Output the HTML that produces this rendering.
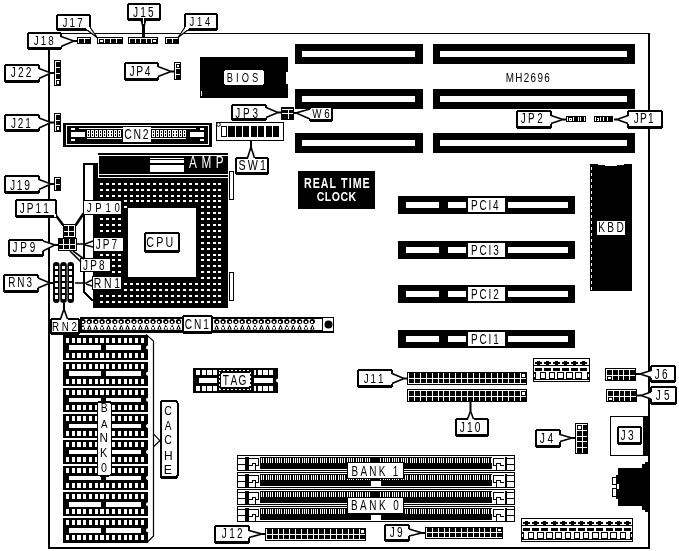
<!DOCTYPE html>
<html><head><meta charset="utf-8"><style>
html,body{margin:0;padding:0;background:#fff;width:679px;height:551px;overflow:hidden}
svg{display:block;will-change:transform}
text{font-family:"Liberation Sans",sans-serif}
</style></head><body>
<svg width="679" height="551" viewBox="0 0 679 551" shape-rendering="crispEdges">
<rect width="679" height="551" fill="#fff"/>
<rect x="48.00" y="33.00" width="602.00" height="1.00" fill="#000" />
<rect x="48.00" y="33.00" width="2.00" height="516.00" fill="#000" />
<rect x="48.00" y="547.00" width="602.00" height="2.00" fill="#000" />
<rect x="648.00" y="33.00" width="2.00" height="516.00" fill="#000" />
<rect x="295.00" y="44.00" width="128.00" height="20.00" fill="#000" />
<rect x="302.00" y="51.00" width="113.00" height="6.00" fill="#fff" />
<rect x="433.00" y="44.00" width="202.00" height="20.00" fill="#000" />
<rect x="440.00" y="51.00" width="187.00" height="6.00" fill="#fff" />
<rect x="295.00" y="89.00" width="128.00" height="20.00" fill="#000" />
<rect x="302.00" y="96.00" width="113.00" height="6.00" fill="#fff" />
<rect x="433.00" y="89.00" width="202.00" height="20.00" fill="#000" />
<rect x="440.00" y="96.00" width="187.00" height="6.00" fill="#fff" />
<rect x="295.00" y="133.00" width="128.00" height="20.00" fill="#000" />
<rect x="302.00" y="140.00" width="113.00" height="6.00" fill="#fff" />
<rect x="433.00" y="133.00" width="202.00" height="20.00" fill="#000" />
<rect x="440.00" y="140.00" width="187.00" height="6.00" fill="#fff" />
<text transform="scale(0.8,1)" x="632.24 644.17 654.74 663.26 671.78 680.30" y="82.30" font-size="12.35" fill="#000" font-weight="normal">MH2696</text>
<rect x="200.00" y="57.00" width="88.00" height="41.00" fill="#000" />
<rect x="286.00" y="72.00" width="2.00" height="12.00" fill="#fff" />
<rect x="201.00" y="91.00" width="1.00" height="5.00" fill="#fff" />
<rect x="224" y="70" width="40" height="15" rx="2.5" fill="#fff"/>
<text transform="scale(0.72,1)" x="315.05 327.86 335.64 349.88" y="81.60" font-size="12.94" fill="#000" font-weight="normal">BIOS</text>
<rect x="216.00" y="122.00" width="68.00" height="19.00" fill="#000" />
<rect x="217.00" y="123.00" width="66.00" height="17.00" fill="#fff" />
<rect x="221.00" y="126.00" width="6.30" height="11.00" fill="#000" />
<rect x="222.00" y="127.00" width="4.30" height="9.00" fill="#fff" />
<rect x="228.42" y="126.00" width="6.20" height="11.00" fill="#000" />
<rect x="235.84" y="126.00" width="6.20" height="11.00" fill="#000" />
<rect x="243.26" y="126.00" width="6.20" height="11.00" fill="#000" />
<rect x="250.68" y="126.00" width="6.20" height="11.00" fill="#000" />
<rect x="258.10" y="126.00" width="6.20" height="11.00" fill="#000" />
<rect x="265.52" y="126.00" width="6.20" height="11.00" fill="#000" />
<rect x="272.94" y="126.00" width="6.20" height="11.00" fill="#000" />
<circle cx="218.5" cy="124.5" r="1.8" fill="#fff" stroke="#000" stroke-width="1" shape-rendering="auto"/>
<rect x="63.00" y="123.00" width="149.00" height="24.00" fill="#000" />
<rect x="66.00" y="125.00" width="143.00" height="20.00" fill="#fff" />
<rect x="67.00" y="126.00" width="141.00" height="18.00" fill="#000" />
<rect x="71.00" y="128.00" width="4.00" height="2.00" fill="#fff" />
<rect x="71.00" y="139.00" width="4.00" height="2.00" fill="#fff" />
<rect x="71.00" y="132.00" width="14.00" height="5.00" fill="#fff" />
<rect x="200.00" y="128.00" width="4.00" height="2.00" fill="#fff" />
<rect x="200.00" y="139.00" width="4.00" height="2.00" fill="#fff" />
<rect x="190.00" y="132.00" width="14.00" height="5.00" fill="#fff" />
<rect x="79.00" y="128.00" width="45.00" height="1.00" fill="#fff" />
<rect x="87.00" y="138.00" width="35.00" height="1.00" fill="#fff" />
<rect x="150.00" y="128.00" width="46.00" height="1.00" fill="#fff" />
<rect x="151.00" y="138.00" width="35.00" height="1.00" fill="#fff" />
<rect x="87.00" y="129.50" width="3.00" height="7.50" fill="#fff" />
<rect x="88.00" y="130.50" width="1.00" height="2.00" fill="#000" />
<rect x="88.00" y="134.00" width="1.00" height="2.00" fill="#000" />
<rect x="90.90" y="129.50" width="3.00" height="7.50" fill="#fff" />
<rect x="91.90" y="130.50" width="1.00" height="2.00" fill="#000" />
<rect x="91.90" y="134.00" width="1.00" height="2.00" fill="#000" />
<rect x="94.80" y="129.50" width="3.00" height="7.50" fill="#fff" />
<rect x="95.80" y="130.50" width="1.00" height="2.00" fill="#000" />
<rect x="95.80" y="134.00" width="1.00" height="2.00" fill="#000" />
<rect x="98.70" y="129.50" width="3.00" height="7.50" fill="#fff" />
<rect x="99.70" y="130.50" width="1.00" height="2.00" fill="#000" />
<rect x="99.70" y="134.00" width="1.00" height="2.00" fill="#000" />
<rect x="102.60" y="129.50" width="3.00" height="7.50" fill="#fff" />
<rect x="103.60" y="130.50" width="1.00" height="2.00" fill="#000" />
<rect x="103.60" y="134.00" width="1.00" height="2.00" fill="#000" />
<rect x="106.50" y="129.50" width="3.00" height="7.50" fill="#fff" />
<rect x="107.50" y="130.50" width="1.00" height="2.00" fill="#000" />
<rect x="107.50" y="134.00" width="1.00" height="2.00" fill="#000" />
<rect x="110.40" y="129.50" width="3.00" height="7.50" fill="#fff" />
<rect x="111.40" y="130.50" width="1.00" height="2.00" fill="#000" />
<rect x="111.40" y="134.00" width="1.00" height="2.00" fill="#000" />
<rect x="114.30" y="129.50" width="3.00" height="7.50" fill="#fff" />
<rect x="115.30" y="130.50" width="1.00" height="2.00" fill="#000" />
<rect x="115.30" y="134.00" width="1.00" height="2.00" fill="#000" />
<rect x="118.20" y="129.50" width="3.00" height="7.50" fill="#fff" />
<rect x="119.20" y="130.50" width="1.00" height="2.00" fill="#000" />
<rect x="119.20" y="134.00" width="1.00" height="2.00" fill="#000" />
<rect x="152.00" y="129.50" width="3.00" height="7.50" fill="#fff" />
<rect x="153.00" y="130.50" width="1.00" height="2.00" fill="#000" />
<rect x="153.00" y="134.00" width="1.00" height="2.00" fill="#000" />
<rect x="155.90" y="129.50" width="3.00" height="7.50" fill="#fff" />
<rect x="156.90" y="130.50" width="1.00" height="2.00" fill="#000" />
<rect x="156.90" y="134.00" width="1.00" height="2.00" fill="#000" />
<rect x="159.80" y="129.50" width="3.00" height="7.50" fill="#fff" />
<rect x="160.80" y="130.50" width="1.00" height="2.00" fill="#000" />
<rect x="160.80" y="134.00" width="1.00" height="2.00" fill="#000" />
<rect x="163.70" y="129.50" width="3.00" height="7.50" fill="#fff" />
<rect x="164.70" y="130.50" width="1.00" height="2.00" fill="#000" />
<rect x="164.70" y="134.00" width="1.00" height="2.00" fill="#000" />
<rect x="167.60" y="129.50" width="3.00" height="7.50" fill="#fff" />
<rect x="168.60" y="130.50" width="1.00" height="2.00" fill="#000" />
<rect x="168.60" y="134.00" width="1.00" height="2.00" fill="#000" />
<rect x="171.50" y="129.50" width="3.00" height="7.50" fill="#fff" />
<rect x="172.50" y="130.50" width="1.00" height="2.00" fill="#000" />
<rect x="172.50" y="134.00" width="1.00" height="2.00" fill="#000" />
<rect x="175.40" y="129.50" width="3.00" height="7.50" fill="#fff" />
<rect x="176.40" y="130.50" width="1.00" height="2.00" fill="#000" />
<rect x="176.40" y="134.00" width="1.00" height="2.00" fill="#000" />
<rect x="179.30" y="129.50" width="3.00" height="7.50" fill="#fff" />
<rect x="180.30" y="130.50" width="1.00" height="2.00" fill="#000" />
<rect x="180.30" y="134.00" width="1.00" height="2.00" fill="#000" />
<rect x="183.20" y="129.50" width="3.00" height="7.50" fill="#fff" />
<rect x="184.20" y="130.50" width="1.00" height="2.00" fill="#000" />
<rect x="184.20" y="134.00" width="1.00" height="2.00" fill="#000" />
<rect x="123.00" y="127.00" width="28.00" height="15.00" fill="#fff" />
<text transform="scale(0.72,1)" x="172.73 185.54 198.34" y="138.90" font-size="14.53" fill="#000" font-weight="normal">CN2</text>
<polygon points="83,163 94,163 94,301 91,301 83,293" fill="#000" />
<polygon points="85,165 93,165 93,298.5 91.5,298.5 85,292" fill="#fff" />
<rect x="93.00" y="163.00" width="135.00" height="145.00" fill="#000" />
<rect x="98.00" y="153.00" width="130.00" height="10.00" fill="#000" />
<rect x="98.00" y="155.00" width="130.00" height="1.00" fill="#fff" />
<rect x="98.00" y="155.00" width="1.00" height="23.00" fill="#fff" />
<rect x="99.00" y="174.00" width="129.00" height="1.00" fill="#fff" />
<rect x="98.00" y="177.00" width="130.00" height="1.00" fill="#fff" />
<rect x="150.00" y="158.00" width="34.00" height="1.00" fill="#fff" />
<rect x="150.00" y="160.00" width="34.00" height="3.00" fill="#fff" />
<rect x="150.00" y="165.00" width="34.00" height="7.00" fill="#fff" />
<text transform="scale(0.75,1)" x="251.97 268.53 287.69" y="168.30" font-size="15.70" fill="#fff" font-weight="normal">AMP</text>
<path d="M100.0,182.7h3v2h-3z M105.9,182.7h3v2h-3z M111.8,182.7h3v2h-3z M117.8,182.7h3v2h-3z M123.7,182.7h3v2h-3z M129.6,182.7h3v2h-3z M135.5,182.7h3v2h-3z M141.4,182.7h3v2h-3z M147.4,182.7h3v2h-3z M153.3,182.7h3v2h-3z M159.2,182.7h3v2h-3z M165.1,182.7h3v2h-3z M171.0,182.7h3v2h-3z M177.0,182.7h3v2h-3z M182.9,182.7h3v2h-3z M188.8,182.7h3v2h-3z M194.7,182.7h3v2h-3z M200.6,182.7h3v2h-3z M206.6,182.7h3v2h-3z M212.5,182.7h3v2h-3z M218.4,182.7h3v2h-3z M100.0,188.6h3v2h-3z M105.9,188.6h3v2h-3z M111.8,188.6h3v2h-3z M117.8,188.6h3v2h-3z M123.7,188.6h3v2h-3z M129.6,188.6h3v2h-3z M135.5,188.6h3v2h-3z M141.4,188.6h3v2h-3z M147.4,188.6h3v2h-3z M153.3,188.6h3v2h-3z M159.2,188.6h3v2h-3z M165.1,188.6h3v2h-3z M171.0,188.6h3v2h-3z M177.0,188.6h3v2h-3z M182.9,188.6h3v2h-3z M188.8,188.6h3v2h-3z M194.7,188.6h3v2h-3z M200.6,188.6h3v2h-3z M206.6,188.6h3v2h-3z M212.5,188.6h3v2h-3z M218.4,188.6h3v2h-3z M100.0,194.5h3v2h-3z M105.9,194.5h3v2h-3z M111.8,194.5h3v2h-3z M117.8,194.5h3v2h-3z M123.7,194.5h3v2h-3z M129.6,194.5h3v2h-3z M135.5,194.5h3v2h-3z M141.4,194.5h3v2h-3z M147.4,194.5h3v2h-3z M153.3,194.5h3v2h-3z M159.2,194.5h3v2h-3z M165.1,194.5h3v2h-3z M171.0,194.5h3v2h-3z M177.0,194.5h3v2h-3z M182.9,194.5h3v2h-3z M188.8,194.5h3v2h-3z M194.7,194.5h3v2h-3z M200.6,194.5h3v2h-3z M206.6,194.5h3v2h-3z M212.5,194.5h3v2h-3z M218.4,194.5h3v2h-3z M123.7,200.4h3v2h-3z M129.6,200.4h3v2h-3z M135.5,200.4h3v2h-3z M141.4,200.4h3v2h-3z M147.4,200.4h3v2h-3z M153.3,200.4h3v2h-3z M159.2,200.4h3v2h-3z M165.1,200.4h3v2h-3z M171.0,200.4h3v2h-3z M177.0,200.4h3v2h-3z M182.9,200.4h3v2h-3z M188.8,200.4h3v2h-3z M194.7,200.4h3v2h-3z M200.6,200.4h3v2h-3z M206.6,200.4h3v2h-3z M212.5,200.4h3v2h-3z M218.4,200.4h3v2h-3z M123.7,206.3h3v2h-3z M200.6,206.3h3v2h-3z M206.6,206.3h3v2h-3z M212.5,206.3h3v2h-3z M218.4,206.3h3v2h-3z M200.6,212.2h3v2h-3z M206.6,212.2h3v2h-3z M212.5,212.2h3v2h-3z M218.4,212.2h3v2h-3z M100.0,218.1h3v2h-3z M105.9,218.1h3v2h-3z M111.8,218.1h3v2h-3z M117.8,218.1h3v2h-3z M200.6,218.1h3v2h-3z M206.6,218.1h3v2h-3z M212.5,218.1h3v2h-3z M218.4,218.1h3v2h-3z M100.0,224.0h3v2h-3z M105.9,224.0h3v2h-3z M111.8,224.0h3v2h-3z M117.8,224.0h3v2h-3z M200.6,224.0h3v2h-3z M206.6,224.0h3v2h-3z M212.5,224.0h3v2h-3z M218.4,224.0h3v2h-3z M100.0,229.9h3v2h-3z M105.9,229.9h3v2h-3z M111.8,229.9h3v2h-3z M117.8,229.9h3v2h-3z M200.6,229.9h3v2h-3z M206.6,229.9h3v2h-3z M212.5,229.9h3v2h-3z M218.4,229.9h3v2h-3z M200.6,235.8h3v2h-3z M206.6,235.8h3v2h-3z M212.5,235.8h3v2h-3z M218.4,235.8h3v2h-3z M200.6,241.7h3v2h-3z M206.6,241.7h3v2h-3z M212.5,241.7h3v2h-3z M218.4,241.7h3v2h-3z M200.6,247.6h3v2h-3z M206.6,247.6h3v2h-3z M212.5,247.6h3v2h-3z M218.4,247.6h3v2h-3z M100.0,253.5h3v2h-3z M105.9,253.5h3v2h-3z M111.8,253.5h3v2h-3z M117.8,253.5h3v2h-3z M200.6,253.5h3v2h-3z M206.6,253.5h3v2h-3z M212.5,253.5h3v2h-3z M218.4,253.5h3v2h-3z M111.8,259.4h3v2h-3z M117.8,259.4h3v2h-3z M200.6,259.4h3v2h-3z M206.6,259.4h3v2h-3z M212.5,259.4h3v2h-3z M218.4,259.4h3v2h-3z M111.8,265.3h3v2h-3z M117.8,265.3h3v2h-3z M200.6,265.3h3v2h-3z M206.6,265.3h3v2h-3z M212.5,265.3h3v2h-3z M218.4,265.3h3v2h-3z M111.8,271.2h3v2h-3z M117.8,271.2h3v2h-3z M200.6,271.2h3v2h-3z M206.6,271.2h3v2h-3z M212.5,271.2h3v2h-3z M218.4,271.2h3v2h-3z M200.6,277.1h3v2h-3z M206.6,277.1h3v2h-3z M212.5,277.1h3v2h-3z M218.4,277.1h3v2h-3z M123.7,283.0h3v2h-3z M129.6,283.0h3v2h-3z M135.5,283.0h3v2h-3z M141.4,283.0h3v2h-3z M147.4,283.0h3v2h-3z M153.3,283.0h3v2h-3z M159.2,283.0h3v2h-3z M165.1,283.0h3v2h-3z M171.0,283.0h3v2h-3z M177.0,283.0h3v2h-3z M182.9,283.0h3v2h-3z M188.8,283.0h3v2h-3z M194.7,283.0h3v2h-3z M200.6,283.0h3v2h-3z M206.6,283.0h3v2h-3z M212.5,283.0h3v2h-3z M218.4,283.0h3v2h-3z M123.7,288.9h3v2h-3z M129.6,288.9h3v2h-3z M135.5,288.9h3v2h-3z M141.4,288.9h3v2h-3z M147.4,288.9h3v2h-3z M153.3,288.9h3v2h-3z M159.2,288.9h3v2h-3z M165.1,288.9h3v2h-3z M171.0,288.9h3v2h-3z M177.0,288.9h3v2h-3z M182.9,288.9h3v2h-3z M188.8,288.9h3v2h-3z M194.7,288.9h3v2h-3z M200.6,288.9h3v2h-3z M206.6,288.9h3v2h-3z M212.5,288.9h3v2h-3z M218.4,288.9h3v2h-3z M100.0,294.8h3v2h-3z M105.9,294.8h3v2h-3z M111.8,294.8h3v2h-3z M117.8,294.8h3v2h-3z M123.7,294.8h3v2h-3z M129.6,294.8h3v2h-3z M135.5,294.8h3v2h-3z M141.4,294.8h3v2h-3z M147.4,294.8h3v2h-3z M153.3,294.8h3v2h-3z M159.2,294.8h3v2h-3z M165.1,294.8h3v2h-3z M171.0,294.8h3v2h-3z M177.0,294.8h3v2h-3z M182.9,294.8h3v2h-3z M188.8,294.8h3v2h-3z M194.7,294.8h3v2h-3z M200.6,294.8h3v2h-3z M206.6,294.8h3v2h-3z M212.5,294.8h3v2h-3z M218.4,294.8h3v2h-3z M100.0,300.7h3v2h-3z M105.9,300.7h3v2h-3z M111.8,300.7h3v2h-3z M117.8,300.7h3v2h-3z M123.7,300.7h3v2h-3z M129.6,300.7h3v2h-3z M135.5,300.7h3v2h-3z M141.4,300.7h3v2h-3z M147.4,300.7h3v2h-3z M153.3,300.7h3v2h-3z M159.2,300.7h3v2h-3z M165.1,300.7h3v2h-3z M171.0,300.7h3v2h-3z M177.0,300.7h3v2h-3z M182.9,300.7h3v2h-3z M188.8,300.7h3v2h-3z M194.7,300.7h3v2h-3z M200.6,300.7h3v2h-3z M206.6,300.7h3v2h-3z M212.5,300.7h3v2h-3z M218.4,300.7h3v2h-3z" fill="#fff"/>
<rect x="128.00" y="208.00" width="68.00" height="69.00" fill="#fff" />
<rect x="229.00" y="171.00" width="5.00" height="29.00" fill="#000" />
<rect x="230.00" y="172.00" width="3.00" height="27.00" fill="#fff" />
<rect x="229.00" y="272.00" width="5.00" height="29.00" fill="#000" />
<rect x="230.00" y="273.00" width="3.00" height="27.00" fill="#fff" />
<rect x="298.00" y="171.00" width="77.00" height="38.00" fill="#000" />
<text transform="scale(0.75,1)" x="405.18 416.84 427.72 439.39 449.46 454.80 464.88 470.21 483.46" y="187.80" font-size="14.24" fill="#fff" font-weight="bold">REAL&#160;TIME</text>
<text transform="scale(0.8,1)" x="395.96 406.04 414.66 425.48 435.57" y="201.30" font-size="13.23" fill="#fff" font-weight="bold">CLOCK</text>
<rect x="398.00" y="196.00" width="177.00" height="18.00" fill="#000" />
<rect x="406.00" y="202.00" width="33.00" height="6.00" fill="#fff" />
<rect x="448.00" y="202.00" width="18.00" height="6.00" fill="#fff" />
<rect x="508.00" y="202.00" width="60.00" height="6.00" fill="#fff" />
<rect x="468.00" y="198.00" width="37.00" height="14.00" fill="#fff" />
<text transform="scale(0.72,1)" x="654.15 665.90 678.42 684.81" y="209.70" font-size="13.81" fill="#000" font-weight="normal">PCI4</text>
<rect x="398.00" y="241.00" width="177.00" height="18.00" fill="#000" />
<rect x="406.00" y="247.00" width="33.00" height="6.00" fill="#fff" />
<rect x="448.00" y="247.00" width="18.00" height="6.00" fill="#fff" />
<rect x="508.00" y="247.00" width="60.00" height="6.00" fill="#fff" />
<rect x="468.00" y="243.00" width="37.00" height="14.00" fill="#fff" />
<text transform="scale(0.72,1)" x="654.15 665.97 678.56 685.01" y="254.70" font-size="13.81" fill="#000" font-weight="normal">PCI3</text>
<rect x="398.00" y="285.00" width="177.00" height="18.00" fill="#000" />
<rect x="406.00" y="291.00" width="33.00" height="6.00" fill="#fff" />
<rect x="448.00" y="291.00" width="18.00" height="6.00" fill="#fff" />
<rect x="508.00" y="291.00" width="60.00" height="6.00" fill="#fff" />
<rect x="468.00" y="287.00" width="37.00" height="14.00" fill="#fff" />
<text transform="scale(0.72,1)" x="654.15 666.00 678.62 685.10" y="298.70" font-size="13.81" fill="#000" font-weight="normal">PCI2</text>
<rect x="398.00" y="330.00" width="177.00" height="18.00" fill="#000" />
<rect x="406.00" y="336.00" width="33.00" height="6.00" fill="#fff" />
<rect x="448.00" y="336.00" width="18.00" height="6.00" fill="#fff" />
<rect x="508.00" y="336.00" width="60.00" height="6.00" fill="#fff" />
<rect x="468.00" y="332.00" width="37.00" height="14.00" fill="#fff" />
<text transform="scale(0.72,1)" x="654.15 665.99 678.60 685.08" y="343.70" font-size="13.81" fill="#000" font-weight="normal">PCI1</text>
<rect x="590.00" y="164.00" width="42.00" height="127.00" fill="#000" />
<rect x="598.00" y="164.00" width="26.00" height="1.00" fill="#fff" />
<rect x="605.00" y="164.00" width="12.00" height="2.00" fill="#fff" />
<rect x="591.00" y="167.00" width="1.00" height="3.00" fill="#fff" />
<rect x="591.00" y="173.00" width="1.00" height="3.00" fill="#fff" />
<rect x="591.00" y="179.00" width="1.00" height="3.00" fill="#fff" />
<rect x="591.00" y="185.00" width="1.00" height="3.00" fill="#fff" />
<rect x="591.00" y="191.00" width="1.00" height="3.00" fill="#fff" />
<rect x="591.00" y="197.00" width="1.00" height="3.00" fill="#fff" />
<rect x="591.00" y="203.00" width="1.00" height="3.00" fill="#fff" />
<rect x="591.00" y="209.00" width="1.00" height="3.00" fill="#fff" />
<rect x="591.00" y="215.00" width="1.00" height="3.00" fill="#fff" />
<rect x="591.00" y="221.00" width="1.00" height="3.00" fill="#fff" />
<rect x="591.00" y="227.00" width="1.00" height="3.00" fill="#fff" />
<rect x="591.00" y="233.00" width="1.00" height="3.00" fill="#fff" />
<rect x="591.00" y="239.00" width="1.00" height="3.00" fill="#fff" />
<rect x="591.00" y="245.00" width="1.00" height="3.00" fill="#fff" />
<rect x="591.00" y="251.00" width="1.00" height="3.00" fill="#fff" />
<rect x="591.00" y="257.00" width="1.00" height="3.00" fill="#fff" />
<rect x="591.00" y="263.00" width="1.00" height="3.00" fill="#fff" />
<rect x="591.00" y="269.00" width="1.00" height="3.00" fill="#fff" />
<rect x="591.00" y="275.00" width="1.00" height="3.00" fill="#fff" />
<rect x="591.00" y="281.00" width="1.00" height="3.00" fill="#fff" />
<rect x="591.00" y="287.00" width="1.00" height="3.00" fill="#fff" />
<rect x="597" y="221" width="28" height="14" rx="1.5" fill="#fff"/>
<text transform="scale(0.72,1)" x="830.79 843.49 856.19" y="231.60" font-size="14.10" fill="#000" font-weight="normal">KBD</text>
<rect x="77.00" y="37.00" width="14.00" height="7.00" fill="#000" />
<rect x="78.00" y="38.00" width="12.00" height="5.00" fill="#fff" />
<rect x="79.00" y="39.00" width="5.00" height="4.00" fill="#000" />
<rect x="85.00" y="39.00" width="5.00" height="4.00" fill="#000" />
<rect x="97.00" y="37.00" width="26.00" height="7.00" fill="#000" />
<rect x="98.00" y="38.00" width="24.00" height="5.00" fill="#fff" />
<rect x="99.00" y="39.00" width="5.00" height="4.00" fill="#000" />
<rect x="100.00" y="40.00" width="3.00" height="2.00" fill="#fff" />
<rect x="105.00" y="39.00" width="5.00" height="4.00" fill="#000" />
<rect x="111.00" y="39.00" width="5.00" height="4.00" fill="#000" />
<rect x="117.00" y="39.00" width="5.00" height="4.00" fill="#000" />
<rect x="128.00" y="37.00" width="30.00" height="7.00" fill="#000" />
<rect x="129.00" y="38.00" width="28.00" height="5.00" fill="#fff" />
<rect x="130.00" y="39.00" width="4.60" height="4.00" fill="#000" />
<rect x="135.60" y="39.00" width="4.60" height="4.00" fill="#000" />
<rect x="141.20" y="39.00" width="4.60" height="4.00" fill="#000" />
<rect x="146.80" y="39.00" width="4.60" height="4.00" fill="#000" />
<rect x="152.40" y="39.00" width="4.60" height="4.00" fill="#000" />
<rect x="153.40" y="40.00" width="2.60" height="2.00" fill="#fff" />
<rect x="165.00" y="37.00" width="14.00" height="7.00" fill="#000" />
<rect x="166.00" y="38.00" width="12.00" height="5.00" fill="#fff" />
<rect x="167.00" y="39.00" width="5.00" height="4.00" fill="#000" />
<rect x="173.00" y="39.00" width="5.00" height="4.00" fill="#000" />
<rect x="54.00" y="60.00" width="7.00" height="26.00" fill="#000" />
<rect x="55.00" y="61.00" width="5.00" height="24.00" fill="#fff" />
<rect x="56.00" y="62.00" width="4.00" height="5.00" fill="#000" />
<rect x="56.00" y="68.00" width="4.00" height="5.00" fill="#000" />
<rect x="56.00" y="74.00" width="4.00" height="5.00" fill="#000" />
<rect x="56.00" y="80.00" width="4.00" height="5.00" fill="#000" />
<rect x="57.00" y="81.00" width="2.00" height="3.00" fill="#fff" />
<rect x="54.00" y="113.00" width="7.00" height="19.00" fill="#000" />
<rect x="55.00" y="114.00" width="5.00" height="17.00" fill="#fff" />
<rect x="56.00" y="115.00" width="4.00" height="4.67" fill="#000" />
<rect x="56.00" y="120.67" width="4.00" height="4.67" fill="#000" />
<rect x="56.00" y="126.33" width="4.00" height="4.67" fill="#000" />
<rect x="57.00" y="127.33" width="2.00" height="2.67" fill="#fff" />
<rect x="174.00" y="62.00" width="7.00" height="18.00" fill="#000" />
<rect x="175.00" y="63.00" width="5.00" height="16.00" fill="#fff" />
<rect x="176.00" y="64.00" width="4.00" height="4.33" fill="#000" />
<rect x="177.00" y="65.00" width="2.00" height="2.33" fill="#fff" />
<rect x="176.00" y="69.33" width="4.00" height="4.33" fill="#000" />
<rect x="176.00" y="74.67" width="4.00" height="4.33" fill="#000" />
<rect x="54.00" y="177.00" width="7.00" height="14.00" fill="#000" />
<rect x="55.00" y="178.00" width="5.00" height="12.00" fill="#fff" />
<rect x="56.00" y="179.00" width="4.00" height="5.00" fill="#000" />
<rect x="56.00" y="185.00" width="4.00" height="5.00" fill="#000" />
<rect x="281.00" y="107.00" width="13.00" height="13.00" fill="#000" />
<rect x="282.00" y="109.00" width="11.00" height="1.00" fill="#fff" />
<rect x="282.00" y="113.00" width="11.00" height="1.00" fill="#fff" />
<rect x="288.00" y="109.00" width="1.00" height="9.50" fill="#fff" />
<rect x="566.00" y="116.00" width="20.00" height="6.00" fill="#000" />
<rect x="567.00" y="117.00" width="1.00" height="4.00" fill="#fff" />
<rect x="573.00" y="117.00" width="1.00" height="4.00" fill="#fff" />
<rect x="578.00" y="117.00" width="1.00" height="4.00" fill="#fff" />
<rect x="580.00" y="117.00" width="1.00" height="4.00" fill="#fff" />
<rect x="584.00" y="117.00" width="1.00" height="4.00" fill="#fff" />
<rect x="569.00" y="117.50" width="3.00" height="3.00" fill="#fff" />
<rect x="570.00" y="118.50" width="1.00" height="1.00" fill="#000" />
<rect x="594.00" y="116.00" width="19.00" height="6.00" fill="#000" />
<rect x="595.00" y="117.00" width="1.00" height="4.00" fill="#fff" />
<rect x="600.00" y="117.00" width="1.00" height="4.00" fill="#fff" />
<rect x="603.00" y="117.00" width="1.00" height="4.00" fill="#fff" />
<rect x="607.00" y="117.00" width="1.00" height="4.00" fill="#fff" />
<rect x="596.50" y="117.50" width="2.50" height="3.00" fill="#fff" />
<rect x="597.30" y="118.50" width="1.00" height="1.00" fill="#000" />
<rect x="63.00" y="224.00" width="13.00" height="14.00" fill="#000" />
<rect x="68.00" y="225.00" width="1.00" height="12.00" fill="#fff" />
<rect x="74.00" y="225.00" width="1.00" height="12.00" fill="#fff" />
<rect x="64.00" y="225.00" width="11.00" height="1.00" fill="#fff" />
<rect x="64.00" y="231.00" width="11.00" height="1.00" fill="#fff" />
<rect x="64.00" y="236.00" width="11.00" height="1.00" fill="#fff" />
<rect x="58.00" y="238.00" width="19.00" height="13.00" fill="#000" />
<rect x="63.00" y="239.00" width="1.00" height="11.00" fill="#fff" />
<rect x="69.00" y="239.00" width="1.00" height="11.00" fill="#fff" />
<rect x="75.00" y="239.00" width="1.00" height="11.00" fill="#fff" />
<rect x="59.00" y="244.00" width="17.00" height="1.00" fill="#fff" />
<rect x="59.00" y="249.00" width="17.00" height="1.00" fill="#fff" />
<rect x="53.0" y="262" width="6.6" height="41" rx="3.3" fill="#000" shape-rendering="auto"/>
<rect x="54.60" y="265.50" width="3.40" height="3.50" fill="#fff" />
<rect x="54.60" y="271.40" width="3.40" height="3.50" fill="#fff" />
<rect x="54.60" y="277.30" width="3.40" height="3.50" fill="#fff" />
<rect x="54.60" y="283.20" width="3.40" height="3.50" fill="#fff" />
<rect x="54.60" y="289.10" width="3.40" height="3.50" fill="#fff" />
<rect x="54.60" y="295.00" width="3.40" height="3.50" fill="#fff" />
<rect x="60.2" y="262" width="6.6" height="41" rx="3.3" fill="#000" shape-rendering="auto"/>
<rect x="61.80" y="265.50" width="3.40" height="3.50" fill="#fff" />
<rect x="61.80" y="271.40" width="3.40" height="3.50" fill="#fff" />
<rect x="61.80" y="277.30" width="3.40" height="3.50" fill="#fff" />
<rect x="61.80" y="283.20" width="3.40" height="3.50" fill="#fff" />
<rect x="61.80" y="289.10" width="3.40" height="3.50" fill="#fff" />
<rect x="61.80" y="295.00" width="3.40" height="3.50" fill="#fff" />
<rect x="67.4" y="262" width="6.6" height="41" rx="3.3" fill="#000" shape-rendering="auto"/>
<rect x="69.00" y="265.50" width="3.40" height="3.50" fill="#fff" />
<rect x="69.00" y="271.40" width="3.40" height="3.50" fill="#fff" />
<rect x="69.00" y="277.30" width="3.40" height="3.50" fill="#fff" />
<rect x="69.00" y="283.20" width="3.40" height="3.50" fill="#fff" />
<rect x="69.00" y="289.10" width="3.40" height="3.50" fill="#fff" />
<rect x="69.00" y="295.00" width="3.40" height="3.50" fill="#fff" />
<rect x="80.00" y="317.00" width="254.00" height="16.00" fill="#000" />
<rect x="82.00" y="318.50" width="240.00" height="11.50" fill="#fff" />
<rect x="323.00" y="318.00" width="10.00" height="13.00" fill="#fff" />
<circle cx="328.5" cy="324.5" r="4" fill="#000" shape-rendering="auto"/>
<path d="M80.30,321.5a2.7,2.5 0 1,0 5.4,0a2.7,2.5 0 1,0 -5.4,0 M86.67,321.5a2.7,2.5 0 1,0 5.4,0a2.7,2.5 0 1,0 -5.4,0 M93.04,321.5a2.7,2.5 0 1,0 5.4,0a2.7,2.5 0 1,0 -5.4,0 M99.41,321.5a2.7,2.5 0 1,0 5.4,0a2.7,2.5 0 1,0 -5.4,0 M105.78,321.5a2.7,2.5 0 1,0 5.4,0a2.7,2.5 0 1,0 -5.4,0 M112.15,321.5a2.7,2.5 0 1,0 5.4,0a2.7,2.5 0 1,0 -5.4,0 M118.52,321.5a2.7,2.5 0 1,0 5.4,0a2.7,2.5 0 1,0 -5.4,0 M124.89,321.5a2.7,2.5 0 1,0 5.4,0a2.7,2.5 0 1,0 -5.4,0 M131.26,321.5a2.7,2.5 0 1,0 5.4,0a2.7,2.5 0 1,0 -5.4,0 M137.63,321.5a2.7,2.5 0 1,0 5.4,0a2.7,2.5 0 1,0 -5.4,0 M144.00,321.5a2.7,2.5 0 1,0 5.4,0a2.7,2.5 0 1,0 -5.4,0 M150.37,321.5a2.7,2.5 0 1,0 5.4,0a2.7,2.5 0 1,0 -5.4,0 M156.74,321.5a2.7,2.5 0 1,0 5.4,0a2.7,2.5 0 1,0 -5.4,0 M163.11,321.5a2.7,2.5 0 1,0 5.4,0a2.7,2.5 0 1,0 -5.4,0 M169.48,321.5a2.7,2.5 0 1,0 5.4,0a2.7,2.5 0 1,0 -5.4,0 M175.85,321.5a2.7,2.5 0 1,0 5.4,0a2.7,2.5 0 1,0 -5.4,0 M182.22,321.5a2.7,2.5 0 1,0 5.4,0a2.7,2.5 0 1,0 -5.4,0 M188.59,321.5a2.7,2.5 0 1,0 5.4,0a2.7,2.5 0 1,0 -5.4,0 M194.96,321.5a2.7,2.5 0 1,0 5.4,0a2.7,2.5 0 1,0 -5.4,0 M201.33,321.5a2.7,2.5 0 1,0 5.4,0a2.7,2.5 0 1,0 -5.4,0 M207.70,321.5a2.7,2.5 0 1,0 5.4,0a2.7,2.5 0 1,0 -5.4,0 M214.07,321.5a2.7,2.5 0 1,0 5.4,0a2.7,2.5 0 1,0 -5.4,0 M220.44,321.5a2.7,2.5 0 1,0 5.4,0a2.7,2.5 0 1,0 -5.4,0 M226.81,321.5a2.7,2.5 0 1,0 5.4,0a2.7,2.5 0 1,0 -5.4,0 M233.18,321.5a2.7,2.5 0 1,0 5.4,0a2.7,2.5 0 1,0 -5.4,0 M239.55,321.5a2.7,2.5 0 1,0 5.4,0a2.7,2.5 0 1,0 -5.4,0 M245.92,321.5a2.7,2.5 0 1,0 5.4,0a2.7,2.5 0 1,0 -5.4,0 M252.29,321.5a2.7,2.5 0 1,0 5.4,0a2.7,2.5 0 1,0 -5.4,0 M258.66,321.5a2.7,2.5 0 1,0 5.4,0a2.7,2.5 0 1,0 -5.4,0 M265.03,321.5a2.7,2.5 0 1,0 5.4,0a2.7,2.5 0 1,0 -5.4,0 M271.40,321.5a2.7,2.5 0 1,0 5.4,0a2.7,2.5 0 1,0 -5.4,0 M277.77,321.5a2.7,2.5 0 1,0 5.4,0a2.7,2.5 0 1,0 -5.4,0 M284.14,321.5a2.7,2.5 0 1,0 5.4,0a2.7,2.5 0 1,0 -5.4,0 M290.51,321.5a2.7,2.5 0 1,0 5.4,0a2.7,2.5 0 1,0 -5.4,0 M296.88,321.5a2.7,2.5 0 1,0 5.4,0a2.7,2.5 0 1,0 -5.4,0 M303.25,321.5a2.7,2.5 0 1,0 5.4,0a2.7,2.5 0 1,0 -5.4,0 M309.62,321.5a2.7,2.5 0 1,0 5.4,0a2.7,2.5 0 1,0 -5.4,0" fill="#000" shape-rendering="auto"/>
<path d="M80.60,329.6l2.4,-5l2.4,5z M86.97,329.6l2.4,-5l2.4,5z M93.34,329.6l2.4,-5l2.4,5z M99.71,329.6l2.4,-5l2.4,5z M106.08,329.6l2.4,-5l2.4,5z M112.45,329.6l2.4,-5l2.4,5z M118.82,329.6l2.4,-5l2.4,5z M125.19,329.6l2.4,-5l2.4,5z M131.56,329.6l2.4,-5l2.4,5z M137.93,329.6l2.4,-5l2.4,5z M144.30,329.6l2.4,-5l2.4,5z M150.67,329.6l2.4,-5l2.4,5z M157.04,329.6l2.4,-5l2.4,5z M163.41,329.6l2.4,-5l2.4,5z M169.78,329.6l2.4,-5l2.4,5z M176.15,329.6l2.4,-5l2.4,5z M182.52,329.6l2.4,-5l2.4,5z M188.89,329.6l2.4,-5l2.4,5z M195.26,329.6l2.4,-5l2.4,5z M201.63,329.6l2.4,-5l2.4,5z M208.00,329.6l2.4,-5l2.4,5z M214.37,329.6l2.4,-5l2.4,5z M220.74,329.6l2.4,-5l2.4,5z M227.11,329.6l2.4,-5l2.4,5z M233.48,329.6l2.4,-5l2.4,5z M239.85,329.6l2.4,-5l2.4,5z M246.22,329.6l2.4,-5l2.4,5z M252.59,329.6l2.4,-5l2.4,5z M258.96,329.6l2.4,-5l2.4,5z M265.33,329.6l2.4,-5l2.4,5z M271.70,329.6l2.4,-5l2.4,5z M278.07,329.6l2.4,-5l2.4,5z M284.44,329.6l2.4,-5l2.4,5z M290.81,329.6l2.4,-5l2.4,5z M297.18,329.6l2.4,-5l2.4,5z M303.55,329.6l2.4,-5l2.4,5z M309.92,329.6l2.4,-5l2.4,5z" fill="#000" shape-rendering="auto"/>
<path d="M82.00,320.5h2v2h-2z M82.30,327h1.4v2h-1.4z M88.37,320.5h2v2h-2z M88.67,327h1.4v2h-1.4z M94.74,320.5h2v2h-2z M95.04,327h1.4v2h-1.4z M101.11,320.5h2v2h-2z M101.41,327h1.4v2h-1.4z M107.48,320.5h2v2h-2z M107.78,327h1.4v2h-1.4z M113.85,320.5h2v2h-2z M114.15,327h1.4v2h-1.4z M120.22,320.5h2v2h-2z M120.52,327h1.4v2h-1.4z M126.59,320.5h2v2h-2z M126.89,327h1.4v2h-1.4z M132.96,320.5h2v2h-2z M133.26,327h1.4v2h-1.4z M139.33,320.5h2v2h-2z M139.63,327h1.4v2h-1.4z M145.70,320.5h2v2h-2z M146.00,327h1.4v2h-1.4z M152.07,320.5h2v2h-2z M152.37,327h1.4v2h-1.4z M158.44,320.5h2v2h-2z M158.74,327h1.4v2h-1.4z M164.81,320.5h2v2h-2z M165.11,327h1.4v2h-1.4z M171.18,320.5h2v2h-2z M171.48,327h1.4v2h-1.4z M177.55,320.5h2v2h-2z M177.85,327h1.4v2h-1.4z M183.92,320.5h2v2h-2z M184.22,327h1.4v2h-1.4z M190.29,320.5h2v2h-2z M190.59,327h1.4v2h-1.4z M196.66,320.5h2v2h-2z M196.96,327h1.4v2h-1.4z M203.03,320.5h2v2h-2z M203.33,327h1.4v2h-1.4z M209.40,320.5h2v2h-2z M209.70,327h1.4v2h-1.4z M215.77,320.5h2v2h-2z M216.07,327h1.4v2h-1.4z M222.14,320.5h2v2h-2z M222.44,327h1.4v2h-1.4z M228.51,320.5h2v2h-2z M228.81,327h1.4v2h-1.4z M234.88,320.5h2v2h-2z M235.18,327h1.4v2h-1.4z M241.25,320.5h2v2h-2z M241.55,327h1.4v2h-1.4z M247.62,320.5h2v2h-2z M247.92,327h1.4v2h-1.4z M253.99,320.5h2v2h-2z M254.29,327h1.4v2h-1.4z M260.36,320.5h2v2h-2z M260.66,327h1.4v2h-1.4z M266.73,320.5h2v2h-2z M267.03,327h1.4v2h-1.4z M273.10,320.5h2v2h-2z M273.40,327h1.4v2h-1.4z M279.47,320.5h2v2h-2z M279.77,327h1.4v2h-1.4z M285.84,320.5h2v2h-2z M286.14,327h1.4v2h-1.4z M292.21,320.5h2v2h-2z M292.51,327h1.4v2h-1.4z M298.58,320.5h2v2h-2z M298.88,327h1.4v2h-1.4z M304.95,320.5h2v2h-2z M305.25,327h1.4v2h-1.4z M311.32,320.5h2v2h-2z M311.62,327h1.4v2h-1.4z" fill="#fff"/>
<rect x="63.00" y="335.40" width="85.00" height="24.40" fill="#000" />
<rect x="65.80" y="337.70" width="3.20" height="5.00" fill="#fff" />
<rect x="65.80" y="352.50" width="3.20" height="5.00" fill="#fff" />
<rect x="71.57" y="337.70" width="3.20" height="5.00" fill="#fff" />
<rect x="71.57" y="352.50" width="3.20" height="5.00" fill="#fff" />
<rect x="77.34" y="337.70" width="3.20" height="5.00" fill="#fff" />
<rect x="77.34" y="352.50" width="3.20" height="5.00" fill="#fff" />
<rect x="83.11" y="337.70" width="3.20" height="5.00" fill="#fff" />
<rect x="83.11" y="352.50" width="3.20" height="5.00" fill="#fff" />
<rect x="88.88" y="337.70" width="3.20" height="5.00" fill="#fff" />
<rect x="88.88" y="352.50" width="3.20" height="5.00" fill="#fff" />
<rect x="94.65" y="337.70" width="3.20" height="5.00" fill="#fff" />
<rect x="94.65" y="352.50" width="3.20" height="5.00" fill="#fff" />
<rect x="100.42" y="337.70" width="3.20" height="5.00" fill="#fff" />
<rect x="100.42" y="352.50" width="3.20" height="5.00" fill="#fff" />
<rect x="106.19" y="337.70" width="3.20" height="5.00" fill="#fff" />
<rect x="106.19" y="352.50" width="3.20" height="5.00" fill="#fff" />
<rect x="111.96" y="337.70" width="3.20" height="5.00" fill="#fff" />
<rect x="111.96" y="352.50" width="3.20" height="5.00" fill="#fff" />
<rect x="117.73" y="337.70" width="3.20" height="5.00" fill="#fff" />
<rect x="117.73" y="352.50" width="3.20" height="5.00" fill="#fff" />
<rect x="123.50" y="337.70" width="3.20" height="5.00" fill="#fff" />
<rect x="123.50" y="352.50" width="3.20" height="5.00" fill="#fff" />
<rect x="129.27" y="337.70" width="3.20" height="5.00" fill="#fff" />
<rect x="129.27" y="352.50" width="3.20" height="5.00" fill="#fff" />
<rect x="135.04" y="337.70" width="3.20" height="5.00" fill="#fff" />
<rect x="135.04" y="352.50" width="3.20" height="5.00" fill="#fff" />
<rect x="140.81" y="337.70" width="3.20" height="5.00" fill="#fff" />
<rect x="140.81" y="352.50" width="3.20" height="5.00" fill="#fff" />
<rect x="69.00" y="345.30" width="32.20" height="4.60" fill="#fff" />
<rect x="106.00" y="345.30" width="34.50" height="4.60" fill="#fff" />
<circle cx="148" cy="347.59999999999997" r="2" fill="#fff" shape-rendering="auto"/>
<rect x="63.00" y="361.50" width="85.00" height="24.40" fill="#000" />
<rect x="65.80" y="363.80" width="3.20" height="5.00" fill="#fff" />
<rect x="65.80" y="378.60" width="3.20" height="5.00" fill="#fff" />
<rect x="71.57" y="363.80" width="3.20" height="5.00" fill="#fff" />
<rect x="71.57" y="378.60" width="3.20" height="5.00" fill="#fff" />
<rect x="77.34" y="363.80" width="3.20" height="5.00" fill="#fff" />
<rect x="77.34" y="378.60" width="3.20" height="5.00" fill="#fff" />
<rect x="83.11" y="363.80" width="3.20" height="5.00" fill="#fff" />
<rect x="83.11" y="378.60" width="3.20" height="5.00" fill="#fff" />
<rect x="88.88" y="363.80" width="3.20" height="5.00" fill="#fff" />
<rect x="88.88" y="378.60" width="3.20" height="5.00" fill="#fff" />
<rect x="94.65" y="363.80" width="3.20" height="5.00" fill="#fff" />
<rect x="94.65" y="378.60" width="3.20" height="5.00" fill="#fff" />
<rect x="100.42" y="363.80" width="3.20" height="5.00" fill="#fff" />
<rect x="100.42" y="378.60" width="3.20" height="5.00" fill="#fff" />
<rect x="106.19" y="363.80" width="3.20" height="5.00" fill="#fff" />
<rect x="106.19" y="378.60" width="3.20" height="5.00" fill="#fff" />
<rect x="111.96" y="363.80" width="3.20" height="5.00" fill="#fff" />
<rect x="111.96" y="378.60" width="3.20" height="5.00" fill="#fff" />
<rect x="117.73" y="363.80" width="3.20" height="5.00" fill="#fff" />
<rect x="117.73" y="378.60" width="3.20" height="5.00" fill="#fff" />
<rect x="123.50" y="363.80" width="3.20" height="5.00" fill="#fff" />
<rect x="123.50" y="378.60" width="3.20" height="5.00" fill="#fff" />
<rect x="129.27" y="363.80" width="3.20" height="5.00" fill="#fff" />
<rect x="129.27" y="378.60" width="3.20" height="5.00" fill="#fff" />
<rect x="135.04" y="363.80" width="3.20" height="5.00" fill="#fff" />
<rect x="135.04" y="378.60" width="3.20" height="5.00" fill="#fff" />
<rect x="140.81" y="363.80" width="3.20" height="5.00" fill="#fff" />
<rect x="140.81" y="378.60" width="3.20" height="5.00" fill="#fff" />
<rect x="69.00" y="371.40" width="32.20" height="4.60" fill="#fff" />
<rect x="106.00" y="371.40" width="34.50" height="4.60" fill="#fff" />
<circle cx="148" cy="373.7" r="2" fill="#fff" shape-rendering="auto"/>
<rect x="63.00" y="387.60" width="85.00" height="24.40" fill="#000" />
<rect x="65.80" y="389.90" width="3.20" height="5.00" fill="#fff" />
<rect x="65.80" y="404.70" width="3.20" height="5.00" fill="#fff" />
<rect x="71.57" y="389.90" width="3.20" height="5.00" fill="#fff" />
<rect x="71.57" y="404.70" width="3.20" height="5.00" fill="#fff" />
<rect x="77.34" y="389.90" width="3.20" height="5.00" fill="#fff" />
<rect x="77.34" y="404.70" width="3.20" height="5.00" fill="#fff" />
<rect x="83.11" y="389.90" width="3.20" height="5.00" fill="#fff" />
<rect x="83.11" y="404.70" width="3.20" height="5.00" fill="#fff" />
<rect x="88.88" y="389.90" width="3.20" height="5.00" fill="#fff" />
<rect x="88.88" y="404.70" width="3.20" height="5.00" fill="#fff" />
<rect x="94.65" y="389.90" width="3.20" height="5.00" fill="#fff" />
<rect x="94.65" y="404.70" width="3.20" height="5.00" fill="#fff" />
<rect x="100.42" y="389.90" width="3.20" height="5.00" fill="#fff" />
<rect x="100.42" y="404.70" width="3.20" height="5.00" fill="#fff" />
<rect x="106.19" y="389.90" width="3.20" height="5.00" fill="#fff" />
<rect x="106.19" y="404.70" width="3.20" height="5.00" fill="#fff" />
<rect x="111.96" y="389.90" width="3.20" height="5.00" fill="#fff" />
<rect x="111.96" y="404.70" width="3.20" height="5.00" fill="#fff" />
<rect x="117.73" y="389.90" width="3.20" height="5.00" fill="#fff" />
<rect x="117.73" y="404.70" width="3.20" height="5.00" fill="#fff" />
<rect x="123.50" y="389.90" width="3.20" height="5.00" fill="#fff" />
<rect x="123.50" y="404.70" width="3.20" height="5.00" fill="#fff" />
<rect x="129.27" y="389.90" width="3.20" height="5.00" fill="#fff" />
<rect x="129.27" y="404.70" width="3.20" height="5.00" fill="#fff" />
<rect x="135.04" y="389.90" width="3.20" height="5.00" fill="#fff" />
<rect x="135.04" y="404.70" width="3.20" height="5.00" fill="#fff" />
<rect x="140.81" y="389.90" width="3.20" height="5.00" fill="#fff" />
<rect x="140.81" y="404.70" width="3.20" height="5.00" fill="#fff" />
<rect x="69.00" y="397.50" width="32.20" height="4.60" fill="#fff" />
<rect x="106.00" y="397.50" width="34.50" height="4.60" fill="#fff" />
<circle cx="148" cy="399.79999999999995" r="2" fill="#fff" shape-rendering="auto"/>
<rect x="63.00" y="413.70" width="85.00" height="24.40" fill="#000" />
<rect x="65.80" y="416.00" width="3.20" height="5.00" fill="#fff" />
<rect x="65.80" y="430.80" width="3.20" height="5.00" fill="#fff" />
<rect x="71.57" y="416.00" width="3.20" height="5.00" fill="#fff" />
<rect x="71.57" y="430.80" width="3.20" height="5.00" fill="#fff" />
<rect x="77.34" y="416.00" width="3.20" height="5.00" fill="#fff" />
<rect x="77.34" y="430.80" width="3.20" height="5.00" fill="#fff" />
<rect x="83.11" y="416.00" width="3.20" height="5.00" fill="#fff" />
<rect x="83.11" y="430.80" width="3.20" height="5.00" fill="#fff" />
<rect x="88.88" y="416.00" width="3.20" height="5.00" fill="#fff" />
<rect x="88.88" y="430.80" width="3.20" height="5.00" fill="#fff" />
<rect x="94.65" y="416.00" width="3.20" height="5.00" fill="#fff" />
<rect x="94.65" y="430.80" width="3.20" height="5.00" fill="#fff" />
<rect x="100.42" y="416.00" width="3.20" height="5.00" fill="#fff" />
<rect x="100.42" y="430.80" width="3.20" height="5.00" fill="#fff" />
<rect x="106.19" y="416.00" width="3.20" height="5.00" fill="#fff" />
<rect x="106.19" y="430.80" width="3.20" height="5.00" fill="#fff" />
<rect x="111.96" y="416.00" width="3.20" height="5.00" fill="#fff" />
<rect x="111.96" y="430.80" width="3.20" height="5.00" fill="#fff" />
<rect x="117.73" y="416.00" width="3.20" height="5.00" fill="#fff" />
<rect x="117.73" y="430.80" width="3.20" height="5.00" fill="#fff" />
<rect x="123.50" y="416.00" width="3.20" height="5.00" fill="#fff" />
<rect x="123.50" y="430.80" width="3.20" height="5.00" fill="#fff" />
<rect x="129.27" y="416.00" width="3.20" height="5.00" fill="#fff" />
<rect x="129.27" y="430.80" width="3.20" height="5.00" fill="#fff" />
<rect x="135.04" y="416.00" width="3.20" height="5.00" fill="#fff" />
<rect x="135.04" y="430.80" width="3.20" height="5.00" fill="#fff" />
<rect x="140.81" y="416.00" width="3.20" height="5.00" fill="#fff" />
<rect x="140.81" y="430.80" width="3.20" height="5.00" fill="#fff" />
<rect x="69.00" y="423.60" width="32.20" height="4.60" fill="#fff" />
<rect x="106.00" y="423.60" width="34.50" height="4.60" fill="#fff" />
<circle cx="148" cy="425.9" r="2" fill="#fff" shape-rendering="auto"/>
<rect x="63.00" y="439.80" width="85.00" height="24.40" fill="#000" />
<rect x="65.80" y="442.10" width="3.20" height="5.00" fill="#fff" />
<rect x="65.80" y="456.90" width="3.20" height="5.00" fill="#fff" />
<rect x="71.57" y="442.10" width="3.20" height="5.00" fill="#fff" />
<rect x="71.57" y="456.90" width="3.20" height="5.00" fill="#fff" />
<rect x="77.34" y="442.10" width="3.20" height="5.00" fill="#fff" />
<rect x="77.34" y="456.90" width="3.20" height="5.00" fill="#fff" />
<rect x="83.11" y="442.10" width="3.20" height="5.00" fill="#fff" />
<rect x="83.11" y="456.90" width="3.20" height="5.00" fill="#fff" />
<rect x="88.88" y="442.10" width="3.20" height="5.00" fill="#fff" />
<rect x="88.88" y="456.90" width="3.20" height="5.00" fill="#fff" />
<rect x="94.65" y="442.10" width="3.20" height="5.00" fill="#fff" />
<rect x="94.65" y="456.90" width="3.20" height="5.00" fill="#fff" />
<rect x="100.42" y="442.10" width="3.20" height="5.00" fill="#fff" />
<rect x="100.42" y="456.90" width="3.20" height="5.00" fill="#fff" />
<rect x="106.19" y="442.10" width="3.20" height="5.00" fill="#fff" />
<rect x="106.19" y="456.90" width="3.20" height="5.00" fill="#fff" />
<rect x="111.96" y="442.10" width="3.20" height="5.00" fill="#fff" />
<rect x="111.96" y="456.90" width="3.20" height="5.00" fill="#fff" />
<rect x="117.73" y="442.10" width="3.20" height="5.00" fill="#fff" />
<rect x="117.73" y="456.90" width="3.20" height="5.00" fill="#fff" />
<rect x="123.50" y="442.10" width="3.20" height="5.00" fill="#fff" />
<rect x="123.50" y="456.90" width="3.20" height="5.00" fill="#fff" />
<rect x="129.27" y="442.10" width="3.20" height="5.00" fill="#fff" />
<rect x="129.27" y="456.90" width="3.20" height="5.00" fill="#fff" />
<rect x="135.04" y="442.10" width="3.20" height="5.00" fill="#fff" />
<rect x="135.04" y="456.90" width="3.20" height="5.00" fill="#fff" />
<rect x="140.81" y="442.10" width="3.20" height="5.00" fill="#fff" />
<rect x="140.81" y="456.90" width="3.20" height="5.00" fill="#fff" />
<rect x="69.00" y="449.70" width="32.20" height="4.60" fill="#fff" />
<rect x="106.00" y="449.70" width="34.50" height="4.60" fill="#fff" />
<circle cx="148" cy="451.99999999999994" r="2" fill="#fff" shape-rendering="auto"/>
<rect x="63.00" y="465.90" width="85.00" height="24.40" fill="#000" />
<rect x="65.80" y="468.20" width="3.20" height="5.00" fill="#fff" />
<rect x="65.80" y="483.00" width="3.20" height="5.00" fill="#fff" />
<rect x="71.57" y="468.20" width="3.20" height="5.00" fill="#fff" />
<rect x="71.57" y="483.00" width="3.20" height="5.00" fill="#fff" />
<rect x="77.34" y="468.20" width="3.20" height="5.00" fill="#fff" />
<rect x="77.34" y="483.00" width="3.20" height="5.00" fill="#fff" />
<rect x="83.11" y="468.20" width="3.20" height="5.00" fill="#fff" />
<rect x="83.11" y="483.00" width="3.20" height="5.00" fill="#fff" />
<rect x="88.88" y="468.20" width="3.20" height="5.00" fill="#fff" />
<rect x="88.88" y="483.00" width="3.20" height="5.00" fill="#fff" />
<rect x="94.65" y="468.20" width="3.20" height="5.00" fill="#fff" />
<rect x="94.65" y="483.00" width="3.20" height="5.00" fill="#fff" />
<rect x="100.42" y="468.20" width="3.20" height="5.00" fill="#fff" />
<rect x="100.42" y="483.00" width="3.20" height="5.00" fill="#fff" />
<rect x="106.19" y="468.20" width="3.20" height="5.00" fill="#fff" />
<rect x="106.19" y="483.00" width="3.20" height="5.00" fill="#fff" />
<rect x="111.96" y="468.20" width="3.20" height="5.00" fill="#fff" />
<rect x="111.96" y="483.00" width="3.20" height="5.00" fill="#fff" />
<rect x="117.73" y="468.20" width="3.20" height="5.00" fill="#fff" />
<rect x="117.73" y="483.00" width="3.20" height="5.00" fill="#fff" />
<rect x="123.50" y="468.20" width="3.20" height="5.00" fill="#fff" />
<rect x="123.50" y="483.00" width="3.20" height="5.00" fill="#fff" />
<rect x="129.27" y="468.20" width="3.20" height="5.00" fill="#fff" />
<rect x="129.27" y="483.00" width="3.20" height="5.00" fill="#fff" />
<rect x="135.04" y="468.20" width="3.20" height="5.00" fill="#fff" />
<rect x="135.04" y="483.00" width="3.20" height="5.00" fill="#fff" />
<rect x="140.81" y="468.20" width="3.20" height="5.00" fill="#fff" />
<rect x="140.81" y="483.00" width="3.20" height="5.00" fill="#fff" />
<rect x="69.00" y="475.80" width="32.20" height="4.60" fill="#fff" />
<rect x="106.00" y="475.80" width="34.50" height="4.60" fill="#fff" />
<circle cx="148" cy="478.09999999999997" r="2" fill="#fff" shape-rendering="auto"/>
<rect x="63.00" y="492.00" width="85.00" height="24.40" fill="#000" />
<rect x="65.80" y="494.30" width="3.20" height="5.00" fill="#fff" />
<rect x="65.80" y="509.10" width="3.20" height="5.00" fill="#fff" />
<rect x="71.57" y="494.30" width="3.20" height="5.00" fill="#fff" />
<rect x="71.57" y="509.10" width="3.20" height="5.00" fill="#fff" />
<rect x="77.34" y="494.30" width="3.20" height="5.00" fill="#fff" />
<rect x="77.34" y="509.10" width="3.20" height="5.00" fill="#fff" />
<rect x="83.11" y="494.30" width="3.20" height="5.00" fill="#fff" />
<rect x="83.11" y="509.10" width="3.20" height="5.00" fill="#fff" />
<rect x="88.88" y="494.30" width="3.20" height="5.00" fill="#fff" />
<rect x="88.88" y="509.10" width="3.20" height="5.00" fill="#fff" />
<rect x="94.65" y="494.30" width="3.20" height="5.00" fill="#fff" />
<rect x="94.65" y="509.10" width="3.20" height="5.00" fill="#fff" />
<rect x="100.42" y="494.30" width="3.20" height="5.00" fill="#fff" />
<rect x="100.42" y="509.10" width="3.20" height="5.00" fill="#fff" />
<rect x="106.19" y="494.30" width="3.20" height="5.00" fill="#fff" />
<rect x="106.19" y="509.10" width="3.20" height="5.00" fill="#fff" />
<rect x="111.96" y="494.30" width="3.20" height="5.00" fill="#fff" />
<rect x="111.96" y="509.10" width="3.20" height="5.00" fill="#fff" />
<rect x="117.73" y="494.30" width="3.20" height="5.00" fill="#fff" />
<rect x="117.73" y="509.10" width="3.20" height="5.00" fill="#fff" />
<rect x="123.50" y="494.30" width="3.20" height="5.00" fill="#fff" />
<rect x="123.50" y="509.10" width="3.20" height="5.00" fill="#fff" />
<rect x="129.27" y="494.30" width="3.20" height="5.00" fill="#fff" />
<rect x="129.27" y="509.10" width="3.20" height="5.00" fill="#fff" />
<rect x="135.04" y="494.30" width="3.20" height="5.00" fill="#fff" />
<rect x="135.04" y="509.10" width="3.20" height="5.00" fill="#fff" />
<rect x="140.81" y="494.30" width="3.20" height="5.00" fill="#fff" />
<rect x="140.81" y="509.10" width="3.20" height="5.00" fill="#fff" />
<rect x="69.00" y="501.90" width="32.20" height="4.60" fill="#fff" />
<rect x="106.00" y="501.90" width="34.50" height="4.60" fill="#fff" />
<circle cx="148" cy="504.2" r="2" fill="#fff" shape-rendering="auto"/>
<rect x="63.00" y="518.10" width="85.00" height="24.40" fill="#000" />
<rect x="65.80" y="520.40" width="3.20" height="5.00" fill="#fff" />
<rect x="65.80" y="535.20" width="3.20" height="5.00" fill="#fff" />
<rect x="71.57" y="520.40" width="3.20" height="5.00" fill="#fff" />
<rect x="71.57" y="535.20" width="3.20" height="5.00" fill="#fff" />
<rect x="77.34" y="520.40" width="3.20" height="5.00" fill="#fff" />
<rect x="77.34" y="535.20" width="3.20" height="5.00" fill="#fff" />
<rect x="83.11" y="520.40" width="3.20" height="5.00" fill="#fff" />
<rect x="83.11" y="535.20" width="3.20" height="5.00" fill="#fff" />
<rect x="88.88" y="520.40" width="3.20" height="5.00" fill="#fff" />
<rect x="88.88" y="535.20" width="3.20" height="5.00" fill="#fff" />
<rect x="94.65" y="520.40" width="3.20" height="5.00" fill="#fff" />
<rect x="94.65" y="535.20" width="3.20" height="5.00" fill="#fff" />
<rect x="100.42" y="520.40" width="3.20" height="5.00" fill="#fff" />
<rect x="100.42" y="535.20" width="3.20" height="5.00" fill="#fff" />
<rect x="106.19" y="520.40" width="3.20" height="5.00" fill="#fff" />
<rect x="106.19" y="535.20" width="3.20" height="5.00" fill="#fff" />
<rect x="111.96" y="520.40" width="3.20" height="5.00" fill="#fff" />
<rect x="111.96" y="535.20" width="3.20" height="5.00" fill="#fff" />
<rect x="117.73" y="520.40" width="3.20" height="5.00" fill="#fff" />
<rect x="117.73" y="535.20" width="3.20" height="5.00" fill="#fff" />
<rect x="123.50" y="520.40" width="3.20" height="5.00" fill="#fff" />
<rect x="123.50" y="535.20" width="3.20" height="5.00" fill="#fff" />
<rect x="129.27" y="520.40" width="3.20" height="5.00" fill="#fff" />
<rect x="129.27" y="535.20" width="3.20" height="5.00" fill="#fff" />
<rect x="135.04" y="520.40" width="3.20" height="5.00" fill="#fff" />
<rect x="135.04" y="535.20" width="3.20" height="5.00" fill="#fff" />
<rect x="140.81" y="520.40" width="3.20" height="5.00" fill="#fff" />
<rect x="140.81" y="535.20" width="3.20" height="5.00" fill="#fff" />
<rect x="69.00" y="528.00" width="32.20" height="4.60" fill="#fff" />
<rect x="106.00" y="528.00" width="34.50" height="4.60" fill="#fff" />
<circle cx="148" cy="530.3" r="2" fill="#fff" shape-rendering="auto"/>
<polyline points="146,334.5 153.5,341 153.5,536 147,542.5" fill="none" stroke="#000" stroke-width="1.2" shape-rendering="auto"/>
<polyline points="153.5,433.8 159.9,440.7 153.5,446.8" fill="none" stroke="#000" stroke-width="1.2" shape-rendering="auto"/>
<rect x="193.00" y="368.00" width="85.00" height="25.00" fill="#000" />
<rect x="196.10" y="370.30" width="4.30" height="4.50" fill="#fff" />
<rect x="196.10" y="386.20" width="4.30" height="4.50" fill="#fff" />
<rect x="201.70" y="370.30" width="4.30" height="4.50" fill="#fff" />
<rect x="201.70" y="386.20" width="4.30" height="4.50" fill="#fff" />
<rect x="207.30" y="370.30" width="4.30" height="4.50" fill="#fff" />
<rect x="207.30" y="386.20" width="4.30" height="4.50" fill="#fff" />
<rect x="212.90" y="370.30" width="4.30" height="4.50" fill="#fff" />
<rect x="212.90" y="386.20" width="4.30" height="4.50" fill="#fff" />
<rect x="218.50" y="370.30" width="4.30" height="4.50" fill="#fff" />
<rect x="218.50" y="386.20" width="4.30" height="4.50" fill="#fff" />
<rect x="224.10" y="370.30" width="4.30" height="4.50" fill="#fff" />
<rect x="224.10" y="386.20" width="4.30" height="4.50" fill="#fff" />
<rect x="229.70" y="370.30" width="4.30" height="4.50" fill="#fff" />
<rect x="229.70" y="386.20" width="4.30" height="4.50" fill="#fff" />
<rect x="235.30" y="370.30" width="4.30" height="4.50" fill="#fff" />
<rect x="235.30" y="386.20" width="4.30" height="4.50" fill="#fff" />
<rect x="240.90" y="370.30" width="4.30" height="4.50" fill="#fff" />
<rect x="240.90" y="386.20" width="4.30" height="4.50" fill="#fff" />
<rect x="246.50" y="370.30" width="4.30" height="4.50" fill="#fff" />
<rect x="246.50" y="386.20" width="4.30" height="4.50" fill="#fff" />
<rect x="252.10" y="370.30" width="4.30" height="4.50" fill="#fff" />
<rect x="252.10" y="386.20" width="4.30" height="4.50" fill="#fff" />
<rect x="257.70" y="370.30" width="4.30" height="4.50" fill="#fff" />
<rect x="257.70" y="386.20" width="4.30" height="4.50" fill="#fff" />
<rect x="263.30" y="370.30" width="4.30" height="4.50" fill="#fff" />
<rect x="263.30" y="386.20" width="4.30" height="4.50" fill="#fff" />
<rect x="268.90" y="370.30" width="4.30" height="4.50" fill="#fff" />
<rect x="268.90" y="386.20" width="4.30" height="4.50" fill="#fff" />
<rect x="199.00" y="378.20" width="20.00" height="4.60" fill="#fff" />
<rect x="252.00" y="378.20" width="21.00" height="4.60" fill="#fff" />
<circle cx="278" cy="380.5" r="2" fill="#fff" shape-rendering="auto"/>
<rect x="216.50" y="369.00" width="37.50" height="23.00" fill="#000" />
<path d="M219,370h2v1h-2z M219,389h2v1h-2z M223,370h2v1h-2z M223,389h2v1h-2z M227,370h2v1h-2z M227,389h2v1h-2z M231,370h2v1h-2z M231,389h2v1h-2z M235,370h2v1h-2z M235,389h2v1h-2z M239,370h2v1h-2z M239,389h2v1h-2z M243,370h2v1h-2z M243,389h2v1h-2z M247,370h2v1h-2z M247,389h2v1h-2z M219,372h1v2h-1z M250,372h1v2h-1z M219,376h1v2h-1z M250,376h1v2h-1z M219,380h1v2h-1z M250,380h1v2h-1z M219,384h1v2h-1z M250,384h1v2h-1z M219,388h1v2h-1z M250,388h1v2h-1z" fill="#fff"/>
<rect x="221" y="373" width="29" height="14" rx="2" fill="#fff"/>
<text transform="scale(0.72,1)" x="309.54 319.98 331.20" y="384.80" font-size="14.10" fill="#000" font-weight="normal">TAG</text>
<rect x="96.5" y="401" width="15.5" height="75.5" rx="3" fill="#000"/>
<rect x="98" y="402.5" width="12.5" height="72.5" rx="1.5" fill="#fff"/>
<text transform="scale(0.8464,1)" x="118.92" y="412.50" font-size="12.21" fill="#000" font-weight="normal">B</text>
<text transform="scale(0.9499,1)" x="106.31" y="428.00" font-size="10.32" fill="#000" font-weight="normal">A</text>
<text transform="scale(0.9677,1)" x="102.95" y="442.20" font-size="12.21" fill="#000" font-weight="normal">N</text>
<text transform="scale(0.8212,1)" x="121.90" y="457.50" font-size="13.37" fill="#000" font-weight="normal">K</text>
<text transform="scale(0.8738,1)" x="115.68" y="472.00" font-size="12.21" fill="#000" font-weight="normal">0</text>
<rect x="160" y="400" width="18.5" height="79" rx="3" fill="#000"/>
<rect x="162" y="402" width="14.5" height="74" rx="1" fill="#fff"/>
<text transform="scale(0.7912,1)" x="207.75" y="414.80" font-size="13.37" fill="#000" font-weight="normal">C</text>
<text transform="scale(0.7639,1)" x="215.83" y="430.00" font-size="13.23" fill="#000" font-weight="normal">A</text>
<text transform="scale(0.7999,1)" x="205.49" y="444.50" font-size="13.23" fill="#000" font-weight="normal">C</text>
<text transform="scale(0.8970,1)" x="182.74" y="459.80" font-size="13.37" fill="#000" font-weight="normal">H</text>
<text transform="scale(0.9244,1)" x="177.28" y="474.30" font-size="13.37" fill="#000" font-weight="normal">E</text>
<rect x="407.00" y="372.00" width="120.00" height="13.00" fill="#000" />
<rect x="408.00" y="373.00" width="118.00" height="11.00" fill="#fff" />
<rect x="409.00" y="373.00" width="4.90" height="4.50" fill="#000" />
<rect x="409.00" y="378.50" width="4.90" height="4.50" fill="#000" />
<rect x="414.90" y="373.00" width="4.90" height="4.50" fill="#000" />
<rect x="414.90" y="378.50" width="4.90" height="4.50" fill="#000" />
<rect x="420.80" y="373.00" width="4.90" height="4.50" fill="#000" />
<rect x="420.80" y="378.50" width="4.90" height="4.50" fill="#000" />
<rect x="426.70" y="373.00" width="4.90" height="4.50" fill="#000" />
<rect x="426.70" y="378.50" width="4.90" height="4.50" fill="#000" />
<rect x="432.60" y="373.00" width="4.90" height="4.50" fill="#000" />
<rect x="432.60" y="378.50" width="4.90" height="4.50" fill="#000" />
<rect x="438.50" y="373.00" width="4.90" height="4.50" fill="#000" />
<rect x="438.50" y="378.50" width="4.90" height="4.50" fill="#000" />
<rect x="444.40" y="373.00" width="4.90" height="4.50" fill="#000" />
<rect x="444.40" y="378.50" width="4.90" height="4.50" fill="#000" />
<rect x="450.30" y="373.00" width="4.90" height="4.50" fill="#000" />
<rect x="450.30" y="378.50" width="4.90" height="4.50" fill="#000" />
<rect x="456.20" y="373.00" width="4.90" height="4.50" fill="#000" />
<rect x="456.20" y="378.50" width="4.90" height="4.50" fill="#000" />
<rect x="462.10" y="373.00" width="4.90" height="4.50" fill="#000" />
<rect x="462.10" y="378.50" width="4.90" height="4.50" fill="#000" />
<rect x="468.00" y="373.00" width="4.90" height="4.50" fill="#000" />
<rect x="468.00" y="378.50" width="4.90" height="4.50" fill="#000" />
<rect x="473.90" y="373.00" width="4.90" height="4.50" fill="#000" />
<rect x="473.90" y="378.50" width="4.90" height="4.50" fill="#000" />
<rect x="479.80" y="373.00" width="4.90" height="4.50" fill="#000" />
<rect x="479.80" y="378.50" width="4.90" height="4.50" fill="#000" />
<rect x="485.70" y="373.00" width="4.90" height="4.50" fill="#000" />
<rect x="485.70" y="378.50" width="4.90" height="4.50" fill="#000" />
<rect x="491.60" y="373.00" width="4.90" height="4.50" fill="#000" />
<rect x="491.60" y="378.50" width="4.90" height="4.50" fill="#000" />
<rect x="497.50" y="373.00" width="4.90" height="4.50" fill="#000" />
<rect x="497.50" y="378.50" width="4.90" height="4.50" fill="#000" />
<rect x="503.40" y="373.00" width="4.90" height="4.50" fill="#000" />
<rect x="503.40" y="378.50" width="4.90" height="4.50" fill="#000" />
<rect x="509.30" y="373.00" width="4.90" height="4.50" fill="#000" />
<rect x="509.30" y="378.50" width="4.90" height="4.50" fill="#000" />
<rect x="515.20" y="373.00" width="4.90" height="4.50" fill="#000" />
<rect x="515.20" y="378.50" width="4.90" height="4.50" fill="#000" />
<rect x="521.10" y="373.00" width="4.90" height="4.50" fill="#000" />
<rect x="522.10" y="374.00" width="2.90" height="2.50" fill="#fff" />
<rect x="521.10" y="378.50" width="4.90" height="4.50" fill="#000" />
<rect x="407.00" y="389.00" width="120.00" height="13.00" fill="#000" />
<rect x="408.00" y="390.00" width="118.00" height="11.00" fill="#fff" />
<rect x="409.00" y="391.00" width="4.90" height="4.50" fill="#000" />
<rect x="409.00" y="396.50" width="4.90" height="4.50" fill="#000" />
<rect x="414.90" y="391.00" width="4.90" height="4.50" fill="#000" />
<rect x="414.90" y="396.50" width="4.90" height="4.50" fill="#000" />
<rect x="420.80" y="391.00" width="4.90" height="4.50" fill="#000" />
<rect x="420.80" y="396.50" width="4.90" height="4.50" fill="#000" />
<rect x="426.70" y="391.00" width="4.90" height="4.50" fill="#000" />
<rect x="426.70" y="396.50" width="4.90" height="4.50" fill="#000" />
<rect x="432.60" y="391.00" width="4.90" height="4.50" fill="#000" />
<rect x="432.60" y="396.50" width="4.90" height="4.50" fill="#000" />
<rect x="438.50" y="391.00" width="4.90" height="4.50" fill="#000" />
<rect x="438.50" y="396.50" width="4.90" height="4.50" fill="#000" />
<rect x="444.40" y="391.00" width="4.90" height="4.50" fill="#000" />
<rect x="444.40" y="396.50" width="4.90" height="4.50" fill="#000" />
<rect x="450.30" y="391.00" width="4.90" height="4.50" fill="#000" />
<rect x="450.30" y="396.50" width="4.90" height="4.50" fill="#000" />
<rect x="456.20" y="391.00" width="4.90" height="4.50" fill="#000" />
<rect x="456.20" y="396.50" width="4.90" height="4.50" fill="#000" />
<rect x="462.10" y="391.00" width="4.90" height="4.50" fill="#000" />
<rect x="462.10" y="396.50" width="4.90" height="4.50" fill="#000" />
<rect x="468.00" y="391.00" width="4.90" height="4.50" fill="#000" />
<rect x="468.00" y="396.50" width="4.90" height="4.50" fill="#000" />
<rect x="473.90" y="391.00" width="4.90" height="4.50" fill="#000" />
<rect x="473.90" y="396.50" width="4.90" height="4.50" fill="#000" />
<rect x="479.80" y="391.00" width="4.90" height="4.50" fill="#000" />
<rect x="479.80" y="396.50" width="4.90" height="4.50" fill="#000" />
<rect x="485.70" y="391.00" width="4.90" height="4.50" fill="#000" />
<rect x="485.70" y="396.50" width="4.90" height="4.50" fill="#000" />
<rect x="491.60" y="391.00" width="4.90" height="4.50" fill="#000" />
<rect x="491.60" y="396.50" width="4.90" height="4.50" fill="#000" />
<rect x="497.50" y="391.00" width="4.90" height="4.50" fill="#000" />
<rect x="497.50" y="396.50" width="4.90" height="4.50" fill="#000" />
<rect x="503.40" y="391.00" width="4.90" height="4.50" fill="#000" />
<rect x="503.40" y="396.50" width="4.90" height="4.50" fill="#000" />
<rect x="509.30" y="391.00" width="4.90" height="4.50" fill="#000" />
<rect x="509.30" y="396.50" width="4.90" height="4.50" fill="#000" />
<rect x="515.20" y="391.00" width="4.90" height="4.50" fill="#000" />
<rect x="515.20" y="396.50" width="4.90" height="4.50" fill="#000" />
<rect x="521.10" y="391.00" width="4.90" height="4.50" fill="#000" />
<rect x="522.10" y="392.00" width="2.90" height="2.50" fill="#fff" />
<rect x="521.10" y="396.50" width="4.90" height="4.50" fill="#000" />
<rect x="237.00" y="455.00" width="278.00" height="16.00" fill="#000" />
<rect x="238.00" y="456.00" width="276.00" height="14.00" fill="#fff" />
<rect x="245.00" y="457.00" width="3.50" height="13.00" fill="#000" />
<rect x="238.00" y="458.00" width="7.00" height="1.00" fill="#000" />
<rect x="238.00" y="464.00" width="7.00" height="1.00" fill="#000" />
<polyline points="248,458.5 258.5,458.5 258.5,465.5 255.5,465.5 255.5,470" fill="none" stroke="#000" stroke-width="1" />
<polyline points="248,465.5 252,465.5 252,463.5 255.5,463.5 255.5,466" fill="none" stroke="#000" stroke-width="1" />
<rect x="504.50" y="457.00" width="2.00" height="13.00" fill="#000" />
<rect x="507.00" y="458.00" width="7.00" height="1.00" fill="#000" />
<rect x="507.00" y="464.00" width="7.00" height="1.00" fill="#000" />
<polyline points="504,458.5 493.5,458.5 493.5,465.5 496.5,465.5 496.5,470" fill="none" stroke="#000" stroke-width="1" />
<polyline points="504,465.5 500,465.5 500,463.5 496.5,463.5 496.5,466" fill="none" stroke="#000" stroke-width="1" />
<rect x="260.00" y="457.00" width="232.00" height="12.00" fill="#000" />
<path d="M261.0,458h1v5h-1z M263.2,458h1v5h-1z M265.5,458h1v5h-1z M267.8,458h1v5h-1z M270.0,458h1v5h-1z M272.2,458h1v5h-1z M274.5,458h1v5h-1z M276.8,458h1v5h-1z M279.0,458h1v5h-1z M281.2,458h1v5h-1z M283.5,458h1v5h-1z M285.8,458h1v5h-1z M288.0,458h1v5h-1z M290.2,458h1v5h-1z M292.5,458h1v5h-1z M294.8,458h1v5h-1z M297.0,458h1v5h-1z M299.2,458h1v5h-1z M301.5,458h1v5h-1z M303.8,458h1v5h-1z M306.0,458h1v5h-1z M308.2,458h1v5h-1z M310.5,458h1v5h-1z M312.8,458h1v5h-1z M315.0,458h1v5h-1z M317.2,458h1v5h-1z M319.5,458h1v5h-1z M321.8,458h1v5h-1z M324.0,458h1v5h-1z M326.2,458h1v5h-1z M328.5,458h1v5h-1z M330.8,458h1v5h-1z M333.0,458h1v5h-1z M335.2,458h1v5h-1z M337.5,458h1v5h-1z M339.8,458h1v5h-1z M342.0,458h1v5h-1z M344.2,458h1v5h-1z M346.5,458h1v5h-1z M348.8,458h1v5h-1z M351.0,458h1v5h-1z M353.2,458h1v5h-1z M355.5,458h1v5h-1z M357.8,458h1v5h-1z M360.0,458h1v5h-1z M362.2,458h1v5h-1z M364.5,458h1v5h-1z M366.8,458h1v5h-1z M369.0,458h1v5h-1z M380.2,458h1v5h-1z M382.5,458h1v5h-1z M384.8,458h1v5h-1z M387.0,458h1v5h-1z M389.2,458h1v5h-1z M391.5,458h1v5h-1z M393.8,458h1v5h-1z M396.0,458h1v5h-1z M398.2,458h1v5h-1z M400.5,458h1v5h-1z M402.8,458h1v5h-1z M405.0,458h1v5h-1z M407.2,458h1v5h-1z M409.5,458h1v5h-1z M411.8,458h1v5h-1z M414.0,458h1v5h-1z M416.2,458h1v5h-1z M418.5,458h1v5h-1z M420.8,458h1v5h-1z M423.0,458h1v5h-1z M425.2,458h1v5h-1z M427.5,458h1v5h-1z M429.8,458h1v5h-1z M432.0,458h1v5h-1z M434.2,458h1v5h-1z M436.5,458h1v5h-1z M438.8,458h1v5h-1z M441.0,458h1v5h-1z M443.2,458h1v5h-1z M445.5,458h1v5h-1z M447.8,458h1v5h-1z M450.0,458h1v5h-1z M452.2,458h1v5h-1z M454.5,458h1v5h-1z M456.8,458h1v5h-1z M459.0,458h1v5h-1z M461.2,458h1v5h-1z M463.5,458h1v5h-1z M465.8,458h1v5h-1z M468.0,458h1v5h-1z M470.2,458h1v5h-1z M472.5,458h1v5h-1z M474.8,458h1v5h-1z M477.0,458h1v5h-1z M479.2,458h1v5h-1z M481.5,458h1v5h-1z M483.8,458h1v5h-1z M486.0,458h1v5h-1z M488.2,458h1v5h-1z M490.5,458h1v5h-1z" fill="#fff"/>
<rect x="237.00" y="472.00" width="278.00" height="16.00" fill="#000" />
<rect x="238.00" y="473.00" width="276.00" height="14.00" fill="#fff" />
<rect x="245.00" y="474.00" width="3.50" height="13.00" fill="#000" />
<rect x="238.00" y="475.00" width="7.00" height="1.00" fill="#000" />
<rect x="238.00" y="481.00" width="7.00" height="1.00" fill="#000" />
<polyline points="248,475.5 258.5,475.5 258.5,482.5 255.5,482.5 255.5,487" fill="none" stroke="#000" stroke-width="1" />
<polyline points="248,482.5 252,482.5 252,480.5 255.5,480.5 255.5,483" fill="none" stroke="#000" stroke-width="1" />
<rect x="504.50" y="474.00" width="2.00" height="13.00" fill="#000" />
<rect x="507.00" y="475.00" width="7.00" height="1.00" fill="#000" />
<rect x="507.00" y="481.00" width="7.00" height="1.00" fill="#000" />
<polyline points="504,475.5 493.5,475.5 493.5,482.5 496.5,482.5 496.5,487" fill="none" stroke="#000" stroke-width="1" />
<polyline points="504,482.5 500,482.5 500,480.5 496.5,480.5 496.5,483" fill="none" stroke="#000" stroke-width="1" />
<rect x="260.00" y="474.00" width="232.00" height="12.00" fill="#000" />
<path d="M261.0,475h1v5h-1z M263.2,475h1v5h-1z M265.5,475h1v5h-1z M267.8,475h1v5h-1z M270.0,475h1v5h-1z M272.2,475h1v5h-1z M274.5,475h1v5h-1z M276.8,475h1v5h-1z M279.0,475h1v5h-1z M281.2,475h1v5h-1z M283.5,475h1v5h-1z M285.8,475h1v5h-1z M288.0,475h1v5h-1z M290.2,475h1v5h-1z M292.5,475h1v5h-1z M294.8,475h1v5h-1z M297.0,475h1v5h-1z M299.2,475h1v5h-1z M301.5,475h1v5h-1z M303.8,475h1v5h-1z M306.0,475h1v5h-1z M308.2,475h1v5h-1z M310.5,475h1v5h-1z M312.8,475h1v5h-1z M315.0,475h1v5h-1z M317.2,475h1v5h-1z M319.5,475h1v5h-1z M321.8,475h1v5h-1z M324.0,475h1v5h-1z M326.2,475h1v5h-1z M328.5,475h1v5h-1z M330.8,475h1v5h-1z M333.0,475h1v5h-1z M335.2,475h1v5h-1z M337.5,475h1v5h-1z M339.8,475h1v5h-1z M342.0,475h1v5h-1z M344.2,475h1v5h-1z M346.5,475h1v5h-1z M348.8,475h1v5h-1z M351.0,475h1v5h-1z M353.2,475h1v5h-1z M355.5,475h1v5h-1z M357.8,475h1v5h-1z M360.0,475h1v5h-1z M362.2,475h1v5h-1z M364.5,475h1v5h-1z M366.8,475h1v5h-1z M369.0,475h1v5h-1z M380.2,475h1v5h-1z M382.5,475h1v5h-1z M384.8,475h1v5h-1z M387.0,475h1v5h-1z M389.2,475h1v5h-1z M391.5,475h1v5h-1z M393.8,475h1v5h-1z M396.0,475h1v5h-1z M398.2,475h1v5h-1z M400.5,475h1v5h-1z M402.8,475h1v5h-1z M405.0,475h1v5h-1z M407.2,475h1v5h-1z M409.5,475h1v5h-1z M411.8,475h1v5h-1z M414.0,475h1v5h-1z M416.2,475h1v5h-1z M418.5,475h1v5h-1z M420.8,475h1v5h-1z M423.0,475h1v5h-1z M425.2,475h1v5h-1z M427.5,475h1v5h-1z M429.8,475h1v5h-1z M432.0,475h1v5h-1z M434.2,475h1v5h-1z M436.5,475h1v5h-1z M438.8,475h1v5h-1z M441.0,475h1v5h-1z M443.2,475h1v5h-1z M445.5,475h1v5h-1z M447.8,475h1v5h-1z M450.0,475h1v5h-1z M452.2,475h1v5h-1z M454.5,475h1v5h-1z M456.8,475h1v5h-1z M459.0,475h1v5h-1z M461.2,475h1v5h-1z M463.5,475h1v5h-1z M465.8,475h1v5h-1z M468.0,475h1v5h-1z M470.2,475h1v5h-1z M472.5,475h1v5h-1z M474.8,475h1v5h-1z M477.0,475h1v5h-1z M479.2,475h1v5h-1z M481.5,475h1v5h-1z M483.8,475h1v5h-1z M486.0,475h1v5h-1z M488.2,475h1v5h-1z M490.5,475h1v5h-1z" fill="#fff"/>
<rect x="237.00" y="489.00" width="278.00" height="16.00" fill="#000" />
<rect x="238.00" y="490.00" width="276.00" height="14.00" fill="#fff" />
<rect x="245.00" y="491.00" width="3.50" height="13.00" fill="#000" />
<rect x="238.00" y="492.00" width="7.00" height="1.00" fill="#000" />
<rect x="238.00" y="498.00" width="7.00" height="1.00" fill="#000" />
<polyline points="248,492.5 258.5,492.5 258.5,499.5 255.5,499.5 255.5,504" fill="none" stroke="#000" stroke-width="1" />
<polyline points="248,499.5 252,499.5 252,497.5 255.5,497.5 255.5,500" fill="none" stroke="#000" stroke-width="1" />
<rect x="504.50" y="491.00" width="2.00" height="13.00" fill="#000" />
<rect x="507.00" y="492.00" width="7.00" height="1.00" fill="#000" />
<rect x="507.00" y="498.00" width="7.00" height="1.00" fill="#000" />
<polyline points="504,492.5 493.5,492.5 493.5,499.5 496.5,499.5 496.5,504" fill="none" stroke="#000" stroke-width="1" />
<polyline points="504,499.5 500,499.5 500,497.5 496.5,497.5 496.5,500" fill="none" stroke="#000" stroke-width="1" />
<rect x="260.00" y="491.00" width="232.00" height="12.00" fill="#000" />
<path d="M261.0,492h1v5h-1z M263.2,492h1v5h-1z M265.5,492h1v5h-1z M267.8,492h1v5h-1z M270.0,492h1v5h-1z M272.2,492h1v5h-1z M274.5,492h1v5h-1z M276.8,492h1v5h-1z M279.0,492h1v5h-1z M281.2,492h1v5h-1z M283.5,492h1v5h-1z M285.8,492h1v5h-1z M288.0,492h1v5h-1z M290.2,492h1v5h-1z M292.5,492h1v5h-1z M294.8,492h1v5h-1z M297.0,492h1v5h-1z M299.2,492h1v5h-1z M301.5,492h1v5h-1z M303.8,492h1v5h-1z M306.0,492h1v5h-1z M308.2,492h1v5h-1z M310.5,492h1v5h-1z M312.8,492h1v5h-1z M315.0,492h1v5h-1z M317.2,492h1v5h-1z M319.5,492h1v5h-1z M321.8,492h1v5h-1z M324.0,492h1v5h-1z M326.2,492h1v5h-1z M328.5,492h1v5h-1z M330.8,492h1v5h-1z M333.0,492h1v5h-1z M335.2,492h1v5h-1z M337.5,492h1v5h-1z M339.8,492h1v5h-1z M342.0,492h1v5h-1z M344.2,492h1v5h-1z M346.5,492h1v5h-1z M348.8,492h1v5h-1z M351.0,492h1v5h-1z M353.2,492h1v5h-1z M355.5,492h1v5h-1z M357.8,492h1v5h-1z M360.0,492h1v5h-1z M362.2,492h1v5h-1z M364.5,492h1v5h-1z M366.8,492h1v5h-1z M369.0,492h1v5h-1z M380.2,492h1v5h-1z M382.5,492h1v5h-1z M384.8,492h1v5h-1z M387.0,492h1v5h-1z M389.2,492h1v5h-1z M391.5,492h1v5h-1z M393.8,492h1v5h-1z M396.0,492h1v5h-1z M398.2,492h1v5h-1z M400.5,492h1v5h-1z M402.8,492h1v5h-1z M405.0,492h1v5h-1z M407.2,492h1v5h-1z M409.5,492h1v5h-1z M411.8,492h1v5h-1z M414.0,492h1v5h-1z M416.2,492h1v5h-1z M418.5,492h1v5h-1z M420.8,492h1v5h-1z M423.0,492h1v5h-1z M425.2,492h1v5h-1z M427.5,492h1v5h-1z M429.8,492h1v5h-1z M432.0,492h1v5h-1z M434.2,492h1v5h-1z M436.5,492h1v5h-1z M438.8,492h1v5h-1z M441.0,492h1v5h-1z M443.2,492h1v5h-1z M445.5,492h1v5h-1z M447.8,492h1v5h-1z M450.0,492h1v5h-1z M452.2,492h1v5h-1z M454.5,492h1v5h-1z M456.8,492h1v5h-1z M459.0,492h1v5h-1z M461.2,492h1v5h-1z M463.5,492h1v5h-1z M465.8,492h1v5h-1z M468.0,492h1v5h-1z M470.2,492h1v5h-1z M472.5,492h1v5h-1z M474.8,492h1v5h-1z M477.0,492h1v5h-1z M479.2,492h1v5h-1z M481.5,492h1v5h-1z M483.8,492h1v5h-1z M486.0,492h1v5h-1z M488.2,492h1v5h-1z M490.5,492h1v5h-1z" fill="#fff"/>
<rect x="237.00" y="506.00" width="278.00" height="16.00" fill="#000" />
<rect x="238.00" y="507.00" width="276.00" height="14.00" fill="#fff" />
<rect x="245.00" y="508.00" width="3.50" height="13.00" fill="#000" />
<rect x="238.00" y="509.00" width="7.00" height="1.00" fill="#000" />
<rect x="238.00" y="515.00" width="7.00" height="1.00" fill="#000" />
<polyline points="248,509.5 258.5,509.5 258.5,516.5 255.5,516.5 255.5,521" fill="none" stroke="#000" stroke-width="1" />
<polyline points="248,516.5 252,516.5 252,514.5 255.5,514.5 255.5,517" fill="none" stroke="#000" stroke-width="1" />
<rect x="504.50" y="508.00" width="2.00" height="13.00" fill="#000" />
<rect x="507.00" y="509.00" width="7.00" height="1.00" fill="#000" />
<rect x="507.00" y="515.00" width="7.00" height="1.00" fill="#000" />
<polyline points="504,509.5 493.5,509.5 493.5,516.5 496.5,516.5 496.5,521" fill="none" stroke="#000" stroke-width="1" />
<polyline points="504,516.5 500,516.5 500,514.5 496.5,514.5 496.5,517" fill="none" stroke="#000" stroke-width="1" />
<rect x="260.00" y="508.00" width="232.00" height="12.00" fill="#000" />
<path d="M261.0,509h1v5h-1z M263.2,509h1v5h-1z M265.5,509h1v5h-1z M267.8,509h1v5h-1z M270.0,509h1v5h-1z M272.2,509h1v5h-1z M274.5,509h1v5h-1z M276.8,509h1v5h-1z M279.0,509h1v5h-1z M281.2,509h1v5h-1z M283.5,509h1v5h-1z M285.8,509h1v5h-1z M288.0,509h1v5h-1z M290.2,509h1v5h-1z M292.5,509h1v5h-1z M294.8,509h1v5h-1z M297.0,509h1v5h-1z M299.2,509h1v5h-1z M301.5,509h1v5h-1z M303.8,509h1v5h-1z M306.0,509h1v5h-1z M308.2,509h1v5h-1z M310.5,509h1v5h-1z M312.8,509h1v5h-1z M315.0,509h1v5h-1z M317.2,509h1v5h-1z M319.5,509h1v5h-1z M321.8,509h1v5h-1z M324.0,509h1v5h-1z M326.2,509h1v5h-1z M328.5,509h1v5h-1z M330.8,509h1v5h-1z M333.0,509h1v5h-1z M335.2,509h1v5h-1z M337.5,509h1v5h-1z M339.8,509h1v5h-1z M342.0,509h1v5h-1z M344.2,509h1v5h-1z M346.5,509h1v5h-1z M348.8,509h1v5h-1z M351.0,509h1v5h-1z M353.2,509h1v5h-1z M355.5,509h1v5h-1z M357.8,509h1v5h-1z M360.0,509h1v5h-1z M362.2,509h1v5h-1z M364.5,509h1v5h-1z M366.8,509h1v5h-1z M369.0,509h1v5h-1z M380.2,509h1v5h-1z M382.5,509h1v5h-1z M384.8,509h1v5h-1z M387.0,509h1v5h-1z M389.2,509h1v5h-1z M391.5,509h1v5h-1z M393.8,509h1v5h-1z M396.0,509h1v5h-1z M398.2,509h1v5h-1z M400.5,509h1v5h-1z M402.8,509h1v5h-1z M405.0,509h1v5h-1z M407.2,509h1v5h-1z M409.5,509h1v5h-1z M411.8,509h1v5h-1z M414.0,509h1v5h-1z M416.2,509h1v5h-1z M418.5,509h1v5h-1z M420.8,509h1v5h-1z M423.0,509h1v5h-1z M425.2,509h1v5h-1z M427.5,509h1v5h-1z M429.8,509h1v5h-1z M432.0,509h1v5h-1z M434.2,509h1v5h-1z M436.5,509h1v5h-1z M438.8,509h1v5h-1z M441.0,509h1v5h-1z M443.2,509h1v5h-1z M445.5,509h1v5h-1z M447.8,509h1v5h-1z M450.0,509h1v5h-1z M452.2,509h1v5h-1z M454.5,509h1v5h-1z M456.8,509h1v5h-1z M459.0,509h1v5h-1z M461.2,509h1v5h-1z M463.5,509h1v5h-1z M465.8,509h1v5h-1z M468.0,509h1v5h-1z M470.2,509h1v5h-1z M472.5,509h1v5h-1z M474.8,509h1v5h-1z M477.0,509h1v5h-1z M479.2,509h1v5h-1z M481.5,509h1v5h-1z M483.8,509h1v5h-1z M486.0,509h1v5h-1z M488.2,509h1v5h-1z M490.5,509h1v5h-1z" fill="#fff"/>
<rect x="371" y="480.5" width="10" height="6" rx="1.5" fill="#fff"/>
<rect x="371" y="514.5" width="10" height="6" rx="1.5" fill="#fff"/>
<rect x="347.00" y="462.00" width="57.00" height="17.00" fill="#000" />
<rect x="348.00" y="463.00" width="55.00" height="15.00" fill="#fff" />
<text transform="scale(0.72,1)" x="488.31 500.67 513.03 526.15 538.51 545.49" y="475.70" font-size="13.81" fill="#000" font-weight="normal">BANK&#160;1</text>
<rect x="347.00" y="497.00" width="57.00" height="17.00" fill="#000" />
<rect x="348.00" y="498.00" width="55.00" height="15.00" fill="#fff" />
<text transform="scale(0.72,1)" x="487.48 500.14 512.81 526.24 538.90 546.19" y="509.90" font-size="13.81" fill="#000" font-weight="normal">BANK&#160;0</text>
<rect x="265.00" y="528.00" width="101.00" height="13.00" fill="#000" />
<rect x="266.00" y="529.00" width="99.00" height="11.00" fill="#fff" />
<rect x="267.00" y="529.00" width="4.82" height="4.50" fill="#000" />
<rect x="267.00" y="534.50" width="4.82" height="4.50" fill="#000" />
<rect x="272.82" y="529.00" width="4.82" height="4.50" fill="#000" />
<rect x="272.82" y="534.50" width="4.82" height="4.50" fill="#000" />
<rect x="278.65" y="529.00" width="4.82" height="4.50" fill="#000" />
<rect x="278.65" y="534.50" width="4.82" height="4.50" fill="#000" />
<rect x="284.47" y="529.00" width="4.82" height="4.50" fill="#000" />
<rect x="284.47" y="534.50" width="4.82" height="4.50" fill="#000" />
<rect x="290.29" y="529.00" width="4.82" height="4.50" fill="#000" />
<rect x="290.29" y="534.50" width="4.82" height="4.50" fill="#000" />
<rect x="296.12" y="529.00" width="4.82" height="4.50" fill="#000" />
<rect x="296.12" y="534.50" width="4.82" height="4.50" fill="#000" />
<rect x="301.94" y="529.00" width="4.82" height="4.50" fill="#000" />
<rect x="301.94" y="534.50" width="4.82" height="4.50" fill="#000" />
<rect x="307.76" y="529.00" width="4.82" height="4.50" fill="#000" />
<rect x="307.76" y="534.50" width="4.82" height="4.50" fill="#000" />
<rect x="313.59" y="529.00" width="4.82" height="4.50" fill="#000" />
<rect x="313.59" y="534.50" width="4.82" height="4.50" fill="#000" />
<rect x="319.41" y="529.00" width="4.82" height="4.50" fill="#000" />
<rect x="319.41" y="534.50" width="4.82" height="4.50" fill="#000" />
<rect x="325.24" y="529.00" width="4.82" height="4.50" fill="#000" />
<rect x="325.24" y="534.50" width="4.82" height="4.50" fill="#000" />
<rect x="331.06" y="529.00" width="4.82" height="4.50" fill="#000" />
<rect x="331.06" y="534.50" width="4.82" height="4.50" fill="#000" />
<rect x="336.88" y="529.00" width="4.82" height="4.50" fill="#000" />
<rect x="336.88" y="534.50" width="4.82" height="4.50" fill="#000" />
<rect x="342.71" y="529.00" width="4.82" height="4.50" fill="#000" />
<rect x="342.71" y="534.50" width="4.82" height="4.50" fill="#000" />
<rect x="348.53" y="529.00" width="4.82" height="4.50" fill="#000" />
<rect x="348.53" y="534.50" width="4.82" height="4.50" fill="#000" />
<rect x="354.35" y="529.00" width="4.82" height="4.50" fill="#000" />
<rect x="354.35" y="534.50" width="4.82" height="4.50" fill="#000" />
<rect x="360.18" y="529.00" width="4.82" height="4.50" fill="#000" />
<rect x="361.18" y="530.00" width="2.82" height="2.50" fill="#fff" />
<rect x="360.18" y="534.50" width="4.82" height="4.50" fill="#000" />
<rect x="425.00" y="527.00" width="78.00" height="12.00" fill="#000" />
<rect x="426.00" y="528.00" width="76.00" height="10.00" fill="#fff" />
<rect x="427.00" y="528.00" width="4.85" height="4.00" fill="#000" />
<rect x="427.00" y="533.00" width="4.85" height="4.00" fill="#000" />
<rect x="432.85" y="528.00" width="4.85" height="4.00" fill="#000" />
<rect x="432.85" y="533.00" width="4.85" height="4.00" fill="#000" />
<rect x="438.69" y="528.00" width="4.85" height="4.00" fill="#000" />
<rect x="438.69" y="533.00" width="4.85" height="4.00" fill="#000" />
<rect x="444.54" y="528.00" width="4.85" height="4.00" fill="#000" />
<rect x="444.54" y="533.00" width="4.85" height="4.00" fill="#000" />
<rect x="450.38" y="528.00" width="4.85" height="4.00" fill="#000" />
<rect x="450.38" y="533.00" width="4.85" height="4.00" fill="#000" />
<rect x="456.23" y="528.00" width="4.85" height="4.00" fill="#000" />
<rect x="456.23" y="533.00" width="4.85" height="4.00" fill="#000" />
<rect x="462.08" y="528.00" width="4.85" height="4.00" fill="#000" />
<rect x="462.08" y="533.00" width="4.85" height="4.00" fill="#000" />
<rect x="467.92" y="528.00" width="4.85" height="4.00" fill="#000" />
<rect x="467.92" y="533.00" width="4.85" height="4.00" fill="#000" />
<rect x="473.77" y="528.00" width="4.85" height="4.00" fill="#000" />
<rect x="473.77" y="533.00" width="4.85" height="4.00" fill="#000" />
<rect x="479.62" y="528.00" width="4.85" height="4.00" fill="#000" />
<rect x="479.62" y="533.00" width="4.85" height="4.00" fill="#000" />
<rect x="485.46" y="528.00" width="4.85" height="4.00" fill="#000" />
<rect x="485.46" y="533.00" width="4.85" height="4.00" fill="#000" />
<rect x="491.31" y="528.00" width="4.85" height="4.00" fill="#000" />
<rect x="491.31" y="533.00" width="4.85" height="4.00" fill="#000" />
<rect x="497.15" y="528.00" width="4.85" height="4.00" fill="#000" />
<rect x="498.15" y="529.00" width="2.85" height="2.00" fill="#fff" />
<rect x="497.15" y="533.00" width="4.85" height="4.00" fill="#000" />
<rect x="521.00" y="518.00" width="112.00" height="24.00" fill="#000" />
<rect x="522.00" y="519.00" width="110.00" height="22.00" fill="#fff" />
<rect x="522.00" y="525.00" width="110.00" height="1.00" fill="#000" />
<rect x="522.00" y="538.50" width="110.00" height="1.00" fill="#000" />
<rect x="523.00" y="522.00" width="7.00" height="1.70" fill="#000" />
<rect x="525.00" y="520.90" width="3.00" height="4.30" fill="#000" />
<rect x="523.00" y="528.00" width="7.00" height="3.00" fill="#000" />
<rect x="527.79" y="532.00" width="6.60" height="7.00" fill="#000" />
<rect x="528.79" y="533.00" width="4.60" height="5.00" fill="#fff" />
<rect x="532.18" y="522.00" width="7.00" height="1.70" fill="#000" />
<rect x="534.18" y="520.90" width="3.00" height="4.30" fill="#000" />
<rect x="532.18" y="528.00" width="7.00" height="3.00" fill="#000" />
<rect x="536.97" y="532.00" width="6.60" height="7.00" fill="#000" />
<rect x="537.97" y="533.00" width="4.60" height="5.00" fill="#fff" />
<rect x="541.36" y="522.00" width="7.00" height="1.70" fill="#000" />
<rect x="543.36" y="520.90" width="3.00" height="4.30" fill="#000" />
<rect x="541.36" y="528.00" width="7.00" height="3.00" fill="#000" />
<rect x="546.15" y="532.00" width="6.60" height="7.00" fill="#000" />
<rect x="547.15" y="533.00" width="4.60" height="5.00" fill="#fff" />
<rect x="550.54" y="522.00" width="7.00" height="1.70" fill="#000" />
<rect x="552.54" y="520.90" width="3.00" height="4.30" fill="#000" />
<rect x="550.54" y="528.00" width="7.00" height="3.00" fill="#000" />
<rect x="555.33" y="532.00" width="6.60" height="7.00" fill="#000" />
<rect x="556.33" y="533.00" width="4.60" height="5.00" fill="#fff" />
<rect x="559.72" y="522.00" width="7.00" height="1.70" fill="#000" />
<rect x="561.72" y="520.90" width="3.00" height="4.30" fill="#000" />
<rect x="559.72" y="528.00" width="7.00" height="3.00" fill="#000" />
<rect x="564.51" y="532.00" width="6.60" height="7.00" fill="#000" />
<rect x="565.51" y="533.00" width="4.60" height="5.00" fill="#fff" />
<rect x="568.90" y="522.00" width="7.00" height="1.70" fill="#000" />
<rect x="570.90" y="520.90" width="3.00" height="4.30" fill="#000" />
<rect x="568.90" y="528.00" width="7.00" height="3.00" fill="#000" />
<rect x="573.69" y="532.00" width="6.60" height="7.00" fill="#000" />
<rect x="574.69" y="533.00" width="4.60" height="5.00" fill="#fff" />
<rect x="578.08" y="522.00" width="7.00" height="1.70" fill="#000" />
<rect x="580.08" y="520.90" width="3.00" height="4.30" fill="#000" />
<rect x="578.08" y="528.00" width="7.00" height="3.00" fill="#000" />
<rect x="582.87" y="532.00" width="6.60" height="7.00" fill="#000" />
<rect x="583.87" y="533.00" width="4.60" height="5.00" fill="#fff" />
<rect x="587.26" y="522.00" width="7.00" height="1.70" fill="#000" />
<rect x="589.26" y="520.90" width="3.00" height="4.30" fill="#000" />
<rect x="587.26" y="528.00" width="7.00" height="3.00" fill="#000" />
<rect x="592.05" y="532.00" width="6.60" height="7.00" fill="#000" />
<rect x="593.05" y="533.00" width="4.60" height="5.00" fill="#fff" />
<rect x="596.44" y="522.00" width="7.00" height="1.70" fill="#000" />
<rect x="598.44" y="520.90" width="3.00" height="4.30" fill="#000" />
<rect x="596.44" y="528.00" width="7.00" height="3.00" fill="#000" />
<rect x="601.23" y="532.00" width="6.60" height="7.00" fill="#000" />
<rect x="602.23" y="533.00" width="4.60" height="5.00" fill="#fff" />
<rect x="605.62" y="522.00" width="7.00" height="1.70" fill="#000" />
<rect x="607.62" y="520.90" width="3.00" height="4.30" fill="#000" />
<rect x="605.62" y="528.00" width="7.00" height="3.00" fill="#000" />
<rect x="610.41" y="532.00" width="6.60" height="7.00" fill="#000" />
<rect x="611.41" y="533.00" width="4.60" height="5.00" fill="#fff" />
<rect x="614.80" y="522.00" width="7.00" height="1.70" fill="#000" />
<rect x="616.80" y="520.90" width="3.00" height="4.30" fill="#000" />
<rect x="614.80" y="528.00" width="7.00" height="3.00" fill="#000" />
<rect x="619.59" y="532.00" width="6.60" height="7.00" fill="#000" />
<rect x="620.59" y="533.00" width="4.60" height="5.00" fill="#fff" />
<rect x="623.98" y="522.00" width="7.00" height="1.70" fill="#000" />
<rect x="625.98" y="520.90" width="3.00" height="4.30" fill="#000" />
<rect x="623.98" y="528.00" width="7.00" height="3.00" fill="#000" />
<rect x="522.00" y="532.00" width="2.00" height="7.00" fill="#000" />
<rect x="522.00" y="534.00" width="1.00" height="3.00" fill="#fff" />
<rect x="630.00" y="532.00" width="2.00" height="7.00" fill="#000" />
<rect x="631.00" y="534.00" width="1.00" height="3.00" fill="#fff" />
<rect x="533.00" y="358.00" width="57.00" height="24.00" fill="#000" />
<rect x="534.00" y="359.00" width="55.00" height="22.00" fill="#fff" />
<rect x="534.00" y="365.00" width="55.00" height="1.00" fill="#000" />
<rect x="534.00" y="378.50" width="55.00" height="1.00" fill="#000" />
<rect x="535.00" y="362.00" width="7.00" height="1.70" fill="#000" />
<rect x="537.00" y="360.90" width="3.00" height="4.30" fill="#000" />
<rect x="535.00" y="368.00" width="7.00" height="3.00" fill="#000" />
<rect x="539.65" y="372.00" width="6.60" height="7.00" fill="#000" />
<rect x="540.65" y="373.00" width="4.60" height="5.00" fill="#fff" />
<rect x="543.90" y="362.00" width="7.00" height="1.70" fill="#000" />
<rect x="545.90" y="360.90" width="3.00" height="4.30" fill="#000" />
<rect x="543.90" y="368.00" width="7.00" height="3.00" fill="#000" />
<rect x="548.55" y="372.00" width="6.60" height="7.00" fill="#000" />
<rect x="549.55" y="373.00" width="4.60" height="5.00" fill="#fff" />
<rect x="552.80" y="362.00" width="7.00" height="1.70" fill="#000" />
<rect x="554.80" y="360.90" width="3.00" height="4.30" fill="#000" />
<rect x="552.80" y="368.00" width="7.00" height="3.00" fill="#000" />
<rect x="557.45" y="372.00" width="6.60" height="7.00" fill="#000" />
<rect x="558.45" y="373.00" width="4.60" height="5.00" fill="#fff" />
<rect x="561.70" y="362.00" width="7.00" height="1.70" fill="#000" />
<rect x="563.70" y="360.90" width="3.00" height="4.30" fill="#000" />
<rect x="561.70" y="368.00" width="7.00" height="3.00" fill="#000" />
<rect x="566.35" y="372.00" width="6.60" height="7.00" fill="#000" />
<rect x="567.35" y="373.00" width="4.60" height="5.00" fill="#fff" />
<rect x="570.60" y="362.00" width="7.00" height="1.70" fill="#000" />
<rect x="572.60" y="360.90" width="3.00" height="4.30" fill="#000" />
<rect x="570.60" y="368.00" width="7.00" height="3.00" fill="#000" />
<rect x="575.25" y="372.00" width="6.60" height="7.00" fill="#000" />
<rect x="576.25" y="373.00" width="4.60" height="5.00" fill="#fff" />
<rect x="579.50" y="362.00" width="7.00" height="1.70" fill="#000" />
<rect x="581.50" y="360.90" width="3.00" height="4.30" fill="#000" />
<rect x="579.50" y="368.00" width="7.00" height="3.00" fill="#000" />
<rect x="534.00" y="372.00" width="2.00" height="7.00" fill="#000" />
<rect x="534.00" y="374.00" width="1.00" height="3.00" fill="#fff" />
<rect x="587.00" y="372.00" width="2.00" height="7.00" fill="#000" />
<rect x="588.00" y="374.00" width="1.00" height="3.00" fill="#fff" />
<rect x="605.00" y="368.00" width="31.00" height="13.00" fill="#000" />
<rect x="606.00" y="369.00" width="29.00" height="11.00" fill="#fff" />
<rect x="607.00" y="370.00" width="4.80" height="4.50" fill="#000" />
<rect x="607.00" y="375.50" width="4.80" height="4.50" fill="#000" />
<rect x="608.00" y="376.50" width="2.80" height="2.50" fill="#fff" />
<rect x="612.80" y="370.00" width="4.80" height="4.50" fill="#000" />
<rect x="612.80" y="375.50" width="4.80" height="4.50" fill="#000" />
<rect x="618.60" y="370.00" width="4.80" height="4.50" fill="#000" />
<rect x="618.60" y="375.50" width="4.80" height="4.50" fill="#000" />
<rect x="624.40" y="370.00" width="4.80" height="4.50" fill="#000" />
<rect x="624.40" y="375.50" width="4.80" height="4.50" fill="#000" />
<rect x="630.20" y="370.00" width="4.80" height="4.50" fill="#000" />
<rect x="630.20" y="375.50" width="4.80" height="4.50" fill="#000" />
<rect x="606.00" y="389.00" width="31.00" height="13.00" fill="#000" />
<rect x="607.00" y="390.00" width="29.00" height="11.00" fill="#fff" />
<rect x="608.00" y="391.00" width="4.80" height="4.50" fill="#000" />
<rect x="608.00" y="396.50" width="4.80" height="4.50" fill="#000" />
<rect x="609.00" y="397.50" width="2.80" height="2.50" fill="#fff" />
<rect x="613.80" y="391.00" width="4.80" height="4.50" fill="#000" />
<rect x="613.80" y="396.50" width="4.80" height="4.50" fill="#000" />
<rect x="619.60" y="391.00" width="4.80" height="4.50" fill="#000" />
<rect x="619.60" y="396.50" width="4.80" height="4.50" fill="#000" />
<rect x="625.40" y="391.00" width="4.80" height="4.50" fill="#000" />
<rect x="625.40" y="396.50" width="4.80" height="4.50" fill="#000" />
<rect x="631.20" y="391.00" width="4.80" height="4.50" fill="#000" />
<rect x="631.20" y="396.50" width="4.80" height="4.50" fill="#000" />
<rect x="575.00" y="423.00" width="13.00" height="31.00" fill="#000" />
<rect x="576.00" y="424.00" width="11.00" height="29.00" fill="#fff" />
<rect x="577.00" y="425.00" width="4.50" height="4.80" fill="#000" />
<rect x="578.00" y="426.00" width="2.50" height="2.80" fill="#fff" />
<rect x="577.00" y="430.80" width="4.50" height="4.80" fill="#000" />
<rect x="577.00" y="436.60" width="4.50" height="4.80" fill="#000" />
<rect x="577.00" y="442.40" width="4.50" height="4.80" fill="#000" />
<rect x="577.00" y="448.20" width="4.50" height="4.80" fill="#000" />
<rect x="582.50" y="425.00" width="4.50" height="4.80" fill="#000" />
<rect x="582.50" y="430.80" width="4.50" height="4.80" fill="#000" />
<rect x="582.50" y="436.60" width="4.50" height="4.80" fill="#000" />
<rect x="582.50" y="442.40" width="4.50" height="4.80" fill="#000" />
<rect x="582.50" y="448.20" width="4.50" height="4.80" fill="#000" />
<rect x="610.00" y="416.00" width="34.00" height="40.00" fill="#000" />
<rect x="611.00" y="417.00" width="32.00" height="38.00" fill="#fff" />
<rect x="643.00" y="416.00" width="7.00" height="40.00" fill="#000" />
<polygon points="618,468 642,468 642,464 645,464 645,462 649,462 649,512 645,512 645,510 642,510 642,506 618,506 618,499 616,499 616,475 618,475" fill="#000" />
<rect x="612.00" y="477.00" width="5.00" height="8.00" fill="#000" />
<rect x="613.00" y="478.00" width="3.00" height="6.00" fill="#fff" />
<rect x="612.00" y="488.00" width="5.00" height="9.00" fill="#000" />
<rect x="613.00" y="489.00" width="3.00" height="7.00" fill="#fff" />
<rect x="617.00" y="484.00" width="2.00" height="5.00" fill="#fff" />
<rect x="56" y="14" width="35" height="17" rx="3" fill="#000"/>
<rect x="58" y="16" width="31" height="12" rx="1" fill="#fff"/>
<polygon points="85.5,28.2 87.5,30.2 97.5,38 90.2,27.5 88.2,25.5" fill="#fff" />
<polyline points="87.5,30.2 97.5,38 90.2,27.5" fill="none" stroke="#000" stroke-width="1.2" shape-rendering="auto" stroke-linejoin="miter"/>
<text transform="scale(0.72,1)" x="86.73 96.65 107.33" y="27.00" font-size="13.52" fill="#000" font-weight="normal">J17</text>
<rect x="127" y="3" width="34" height="18" rx="3" fill="#000"/>
<rect x="129" y="5" width="30" height="13" rx="1" fill="#fff"/>
<polygon points="140,19 146.5,19 145,26 145,37 142,37 142,26" fill="#000" shape-rendering="auto"/>
<rect x="143.00" y="18.00" width="1.00" height="6.00" fill="#fff" />
<text transform="scale(0.72,1)" x="184.64 194.69 205.53" y="16.70" font-size="14.10" fill="#000" font-weight="normal">J15</text>
<rect x="184" y="13" width="34" height="18" rx="3" fill="#000"/>
<rect x="186" y="15" width="30" height="13" rx="1" fill="#fff"/>
<polygon points="186.8,25.5 184.8,27.5 178,37.5 187.5,30.2 189.5,28.2" fill="#fff" />
<polyline points="184.8,27.5 178,37.5 187.5,30.2" fill="none" stroke="#000" stroke-width="1.2" shape-rendering="auto" stroke-linejoin="miter"/>
<text transform="scale(0.72,1)" x="263.13 273.58 284.77" y="26.50" font-size="13.08" fill="#000" font-weight="normal">J14</text>
<rect x="27" y="32" width="35" height="18" rx="3" fill="#000"/>
<rect x="29" y="34" width="31" height="13" rx="1" fill="#fff"/>
<line x1="74" y1="41" x2="77" y2="41" stroke="#000" stroke-width="2" shape-rendering="auto"/>
<polygon points="58,36.5 61,36.5 74,41 61,46.5 58,46.5" fill="#fff" />
<polyline points="61,36.5 74,41 61,46.5" fill="none" stroke="#000" stroke-width="1.6" shape-rendering="auto" stroke-linejoin="miter"/>
<text transform="scale(0.72,1)" x="46.73 56.56 67.16" y="44.60" font-size="13.66" fill="#000" font-weight="normal">J18</text>
<rect x="4" y="64" width="36" height="19" rx="3" fill="#000"/>
<rect x="6" y="66" width="32" height="14" rx="1" fill="#fff"/>
<line x1="51" y1="73" x2="54" y2="73" stroke="#000" stroke-width="2" shape-rendering="auto"/>
<polygon points="36,68.5 39,68.5 51,73 39,78.5 36,78.5" fill="#fff" />
<polyline points="39,68.5 51,73 39,78.5" fill="none" stroke="#000" stroke-width="1.6" shape-rendering="auto" stroke-linejoin="miter"/>
<text transform="scale(0.72,1)" x="14.78 24.89 35.78" y="76.80" font-size="14.10" fill="#000" font-weight="normal">J22</text>
<rect x="4" y="114" width="36" height="18" rx="3" fill="#000"/>
<rect x="6" y="116" width="32" height="13" rx="1" fill="#fff"/>
<line x1="51" y1="122.5" x2="54" y2="122.5" stroke="#000" stroke-width="2" shape-rendering="auto"/>
<polygon points="36,118 39,118 51,122.5 39,128 36,128" fill="#fff" />
<polyline points="39,118 51,122.5 39,128" fill="none" stroke="#000" stroke-width="1.6" shape-rendering="auto" stroke-linejoin="miter"/>
<text transform="scale(0.72,1)" x="15.20 24.68 34.94" y="127.80" font-size="13.81" fill="#000" font-weight="normal">J21</text>
<rect x="124" y="62" width="35" height="19" rx="3" fill="#000"/>
<rect x="126" y="64" width="31" height="14" rx="1" fill="#fff"/>
<line x1="171" y1="71.5" x2="174" y2="71.5" stroke="#000" stroke-width="2" shape-rendering="auto"/>
<polygon points="155,66.5 158,66.5 171,71.5 158,76.5 155,76.5" fill="#fff" />
<polyline points="158,66.5 171,71.5 158,76.5" fill="none" stroke="#000" stroke-width="1.6" shape-rendering="auto" stroke-linejoin="miter"/>
<text transform="scale(0.72,1)" x="179.92 189.25 200.97" y="76.00" font-size="14.24" fill="#000" font-weight="normal">JP4</text>
<rect x="231" y="104" width="36" height="17" rx="3" fill="#000"/>
<rect x="233" y="106" width="32" height="12" rx="1" fill="#fff"/>
<line x1="278" y1="112.5" x2="281" y2="112.5" stroke="#000" stroke-width="2" shape-rendering="auto"/>
<polygon points="263,107.5 266,107.5 278,112.5 266,117.5 263,117.5" fill="#fff" />
<polyline points="266,107.5 278,112.5 266,117.5" fill="none" stroke="#000" stroke-width="1.6" shape-rendering="auto" stroke-linejoin="miter"/>
<text transform="scale(0.72,1)" x="326.87 337.56 350.57" y="117.80" font-size="13.81" fill="#000" font-weight="normal">JP3</text>
<rect x="309" y="106" width="24" height="16" rx="3" fill="#000"/>
<rect x="311" y="108" width="20" height="11" rx="1" fill="#fff"/>
<line x1="296" y1="113" x2="293" y2="113" stroke="#000" stroke-width="2" shape-rendering="auto"/>
<polygon points="313,109 310,109 296,113 310,119 313,119" fill="#fff" />
<polyline points="310,109 296,113 310,119" fill="none" stroke="#000" stroke-width="1.6" shape-rendering="auto" stroke-linejoin="miter"/>
<text transform="scale(0.72,1)" x="433.55 450.22" y="118.00" font-size="13.66" fill="#000" font-weight="normal">W6</text>
<rect x="516" y="110" width="36" height="19" rx="3" fill="#000"/>
<rect x="518" y="112" width="32" height="14" rx="1" fill="#fff"/>
<line x1="563" y1="119.5" x2="566" y2="119.5" stroke="#000" stroke-width="2" shape-rendering="auto"/>
<polygon points="548,115.5 551,115.5 563,119.5 551,123.5 548,123.5" fill="#fff" />
<polyline points="551,115.5 563,119.5 551,123.5" fill="none" stroke="#000" stroke-width="1.6" shape-rendering="auto" stroke-linejoin="miter"/>
<text transform="scale(0.72,1)" x="723.12 733.44 746.07" y="122.80" font-size="13.81" fill="#000" font-weight="normal">JP2</text>
<rect x="627" y="110" width="36" height="19" rx="3" fill="#000"/>
<rect x="629" y="112" width="32" height="14" rx="1" fill="#fff"/>
<line x1="617" y1="119.5" x2="614" y2="119.5" stroke="#000" stroke-width="2" shape-rendering="auto"/>
<polygon points="631,115.5 628,115.5 617,119.5 628,123.5 631,123.5" fill="#fff" />
<polyline points="628,115.5 617,119.5 628,123.5" fill="none" stroke="#000" stroke-width="1.6" shape-rendering="auto" stroke-linejoin="miter"/>
<text transform="scale(0.72,1)" x="880.06 888.89 900.07" y="123.50" font-size="14.10" fill="#000" font-weight="normal">JP1</text>
<rect x="235" y="157" width="34" height="18" rx="3" fill="#000"/>
<rect x="237" y="159" width="30" height="13" rx="1" fill="#fff"/>
<line x1="251" y1="147" x2="251" y2="141" stroke="#000" stroke-width="2" shape-rendering="auto"/>
<polygon points="247.5,161 247.5,158 251,147 254.5,158 254.5,161" fill="#fff" />
<polyline points="247.5,158 251,147 254.5,158" fill="none" stroke="#000" stroke-width="1.6" shape-rendering="auto" stroke-linejoin="miter"/>
<text transform="scale(0.72,1)" x="331.13 343.99 360.95" y="170.30" font-size="14.83" fill="#000" font-weight="normal">SW1</text>
<rect x="4" y="175" width="36" height="19" rx="3" fill="#000"/>
<rect x="6" y="177" width="32" height="14" rx="1" fill="#fff"/>
<line x1="51" y1="184" x2="54" y2="184" stroke="#000" stroke-width="2" shape-rendering="auto"/>
<polygon points="36,179.5 39,179.5 51,184 39,189.5 36,189.5" fill="#fff" />
<polyline points="39,179.5 51,184 39,189.5" fill="none" stroke="#000" stroke-width="1.6" shape-rendering="auto" stroke-linejoin="miter"/>
<text transform="scale(0.72,1)" x="13.81 23.30 33.59" y="190.10" font-size="14.24" fill="#000" font-weight="normal">J19</text>
<rect x="15" y="199" width="42" height="19" rx="3" fill="#000"/>
<rect x="17" y="201" width="38" height="14" rx="1" fill="#fff"/>
<line x1="55.2" y1="214.5" x2="63.5" y2="225.5" stroke="#000" stroke-width="2.6" shape-rendering="auto"/>
<rect x="54.00" y="214.00" width="2.00" height="3.00" fill="#fff" />
<text transform="scale(0.72,1)" x="27.28 37.20 49.44 60.14" y="212.90" font-size="13.95" fill="#000" font-weight="normal">JP11</text>
<rect x="8" y="239" width="36" height="18" rx="3" fill="#000"/>
<rect x="10" y="241" width="32" height="13" rx="1" fill="#fff"/>
<line x1="55" y1="245" x2="58" y2="245" stroke="#000" stroke-width="2" shape-rendering="auto"/>
<polygon points="40,241 43,241 55,245 43,251 40,251" fill="#fff" />
<polyline points="43,241 55,245 43,251" fill="none" stroke="#000" stroke-width="1.6" shape-rendering="auto" stroke-linejoin="miter"/>
<text transform="scale(0.72,1)" x="17.42 28.21 41.31" y="252.30" font-size="13.81" fill="#000" font-weight="normal">JP9</text>
<rect x="3" y="274" width="36" height="19" rx="3" fill="#000"/>
<rect x="5" y="276" width="32" height="14" rx="1" fill="#fff"/>
<line x1="50" y1="283" x2="53" y2="283" stroke="#000" stroke-width="2" shape-rendering="auto"/>
<polygon points="35,278 38,278 50,283 38,288 35,288" fill="#fff" />
<polyline points="38,278 50,283 38,288" fill="none" stroke="#000" stroke-width="1.6" shape-rendering="auto" stroke-linejoin="miter"/>
<text transform="scale(0.72,1)" x="11.37 24.02 36.68" y="287.00" font-size="13.81" fill="#000" font-weight="normal">RN3</text>
<rect x="50" y="318" width="30" height="17" rx="3" fill="#000"/>
<rect x="52" y="320" width="26" height="12" rx="1" fill="#fff"/>
<line x1="64" y1="309" x2="64" y2="303" stroke="#000" stroke-width="2" shape-rendering="auto"/>
<polygon points="60.5,322 60.5,319 64,309 67.5,319 67.5,322" fill="#fff" />
<polyline points="60.5,319 64,309 67.5,319" fill="none" stroke="#000" stroke-width="1.6" shape-rendering="auto" stroke-linejoin="miter"/>
<text transform="scale(0.72,1)" x="72.21 85.84 99.48" y="331.40" font-size="13.66" fill="#000" font-weight="normal">RN2</text>
<rect x="144" y="232" width="36" height="21" rx="3" fill="#000"/>
<rect x="146" y="234" width="32" height="16" rx="1" fill="#fff"/>
<text transform="scale(0.72,1)" x="203.00 216.85 229.88" y="246.90" font-size="14.83" fill="#000" font-weight="normal">CPU</text>
<rect x="182" y="315" width="31" height="19" rx="3" fill="#000"/>
<rect x="184" y="317" width="27" height="14" rx="1" fill="#fff"/>
<text transform="scale(0.72,1)" x="256.65 269.54 282.43" y="328.80" font-size="14.10" fill="#000" font-weight="normal">CN1</text>
<rect x="357" y="369" width="36" height="19" rx="3" fill="#000"/>
<rect x="359" y="371" width="32" height="14" rx="1" fill="#fff"/>
<line x1="404" y1="378.5" x2="407" y2="378.5" stroke="#000" stroke-width="2" shape-rendering="auto"/>
<polygon points="389,373.5 392,373.5 404,378.5 392,383.5 389,383.5" fill="#fff" />
<polyline points="392,373.5 404,378.5 392,383.5" fill="none" stroke="#000" stroke-width="1.6" shape-rendering="auto" stroke-linejoin="miter"/>
<text transform="scale(0.72,1)" x="505.20 514.66 524.87" y="382.80" font-size="13.66" fill="#000" font-weight="normal">J11</text>
<rect x="455" y="418" width="34" height="19" rx="3" fill="#000"/>
<rect x="457" y="420" width="30" height="14" rx="1" fill="#fff"/>
<line x1="470.5" y1="411" x2="470.5" y2="402" stroke="#000" stroke-width="2" shape-rendering="auto"/>
<polygon points="467.5,422 467.5,419 470.5,411 473.5,419 473.5,422" fill="#fff" />
<polyline points="467.5,419 470.5,411 473.5,419" fill="none" stroke="#000" stroke-width="1.6" shape-rendering="auto" stroke-linejoin="miter"/>
<text transform="scale(0.72,1)" x="638.39 648.51 659.44" y="431.90" font-size="14.24" fill="#000" font-weight="normal">J10</text>
<rect x="650" y="365" width="26" height="18" rx="3" fill="#000"/>
<rect x="652" y="367" width="22" height="13" rx="1" fill="#fff"/>
<line x1="640" y1="374" x2="636" y2="374" stroke="#000" stroke-width="2" shape-rendering="auto"/>
<polygon points="654,370.5 651,370.5 640,374 651,377.5 654,377.5" fill="#fff" />
<polyline points="651,370.5 640,374 651,377.5" fill="none" stroke="#000" stroke-width="1.6" shape-rendering="auto" stroke-linejoin="miter"/>
<text transform="scale(0.72,1)" x="909.37 919.59" y="378.80" font-size="13.81" fill="#000" font-weight="normal">J6</text>
<rect x="650" y="386" width="27" height="19" rx="3" fill="#000"/>
<rect x="652" y="388" width="23" height="14" rx="1" fill="#fff"/>
<line x1="641" y1="395.5" x2="637" y2="395.5" stroke="#000" stroke-width="2" shape-rendering="auto"/>
<polygon points="654,392.0 651,392.0 641,395.5 651,399.0 654,399.0" fill="#fff" />
<polyline points="651,392.0 641,395.5 651,399.0" fill="none" stroke="#000" stroke-width="1.6" shape-rendering="auto" stroke-linejoin="miter"/>
<text transform="scale(0.72,1)" x="910.62 922.27" y="399.60" font-size="13.95" fill="#000" font-weight="normal">J5</text>
<rect x="535" y="429" width="26" height="19" rx="3" fill="#000"/>
<rect x="537" y="431" width="22" height="14" rx="1" fill="#fff"/>
<line x1="572" y1="438" x2="575" y2="438" stroke="#000" stroke-width="2" shape-rendering="auto"/>
<polygon points="557,434.5 560,434.5 572,438 560,441.5 557,441.5" fill="#fff" />
<polyline points="560,434.5 572,438 560,441.5" fill="none" stroke="#000" stroke-width="1.6" shape-rendering="auto" stroke-linejoin="miter"/>
<text transform="scale(0.72,1)" x="749.50 760.41" y="442.80" font-size="14.24" fill="#000" font-weight="normal">J4</text>
<rect x="617" y="426" width="25" height="19" rx="3" fill="#000"/>
<rect x="619" y="428" width="21" height="14" rx="1" fill="#fff"/>
<text transform="scale(0.72,1)" x="861.72 872.15" y="439.90" font-size="14.24" fill="#000" font-weight="normal">J3</text>
<rect x="214" y="525" width="36" height="19" rx="3" fill="#000"/>
<rect x="216" y="527" width="32" height="14" rx="1" fill="#fff"/>
<line x1="262" y1="534" x2="265" y2="534" stroke="#000" stroke-width="2" shape-rendering="auto"/>
<polygon points="246,530.5 249,530.5 262,534 249,537.5 246,537.5" fill="#fff" />
<polyline points="249,530.5 262,534 249,537.5" fill="none" stroke="#000" stroke-width="1.6" shape-rendering="auto" stroke-linejoin="miter"/>
<text transform="scale(0.72,1)" x="307.98 318.26 329.33" y="537.80" font-size="13.95" fill="#000" font-weight="normal">J12</text>
<rect x="384" y="524" width="26" height="18" rx="3" fill="#000"/>
<rect x="386" y="526" width="22" height="13" rx="1" fill="#fff"/>
<line x1="422" y1="533" x2="425" y2="533" stroke="#000" stroke-width="2" shape-rendering="auto"/>
<polygon points="406,529.0 409,529.0 422,533 409,536.0 406,536.0" fill="#fff" />
<polyline points="409,529.0 422,533 409,536.0" fill="none" stroke="#000" stroke-width="1.6" shape-rendering="auto" stroke-linejoin="miter"/>
<text transform="scale(0.72,1)" x="541.31 551.37" y="536.80" font-size="13.95" fill="#000" font-weight="normal">J9</text>
<rect x="83.00" y="200.00" width="39.00" height="15.00" fill="#000" />
<rect x="84.00" y="201.00" width="37.00" height="13.00" fill="#fff" />
<text transform="scale(0.72,1)" x="120.35 132.26 146.40 159.06" y="212.00" font-size="13.37" fill="#000" font-weight="normal">JP10</text>
<line x1="83.5" y1="213.5" x2="75.5" y2="225.5" stroke="#000" stroke-width="2.6" shape-rendering="auto"/>
<rect x="93.00" y="237.00" width="31.00" height="15.00" fill="#000" />
<rect x="94.00" y="238.00" width="29.00" height="13.00" fill="#fff" />
<text transform="scale(0.72,1)" x="132.98 142.84 155.02" y="249.10" font-size="13.95" fill="#000" font-weight="normal">JP7</text>
<polyline points="93,241 85,244 77,244" fill="none" stroke="#000" stroke-width="1.6" shape-rendering="auto"/>
<polyline points="93,247 85,245" fill="none" stroke="#000" stroke-width="1.6" shape-rendering="auto"/>
<rect x="80.00" y="258.00" width="31.00" height="14.00" fill="#000" />
<rect x="81.00" y="259.00" width="29.00" height="12.00" fill="#fff" />
<text transform="scale(0.72,1)" x="115.34 125.20 137.37" y="269.80" font-size="13.81" fill="#000" font-weight="normal">JP8</text>
<polyline points="81,262 70,251" fill="none" stroke="#000" stroke-width="1.6" shape-rendering="auto"/>
<polyline points="84,259 73,251" fill="none" stroke="#000" stroke-width="1.6" shape-rendering="auto"/>
<rect x="92.00" y="276.00" width="30.00" height="14.00" fill="#000" />
<rect x="93.00" y="277.00" width="28.00" height="12.00" fill="#fff" />
<text transform="scale(0.72,1)" x="130.20 144.40 158.60" y="287.60" font-size="14.53" fill="#000" font-weight="normal">RN1</text>
<polyline points="92,280 86,283 75,283" fill="none" stroke="#000" stroke-width="1.6" shape-rendering="auto"/>
<polyline points="92,286 86,284" fill="none" stroke="#000" stroke-width="1.6" shape-rendering="auto"/>
</svg>
</body></html>
